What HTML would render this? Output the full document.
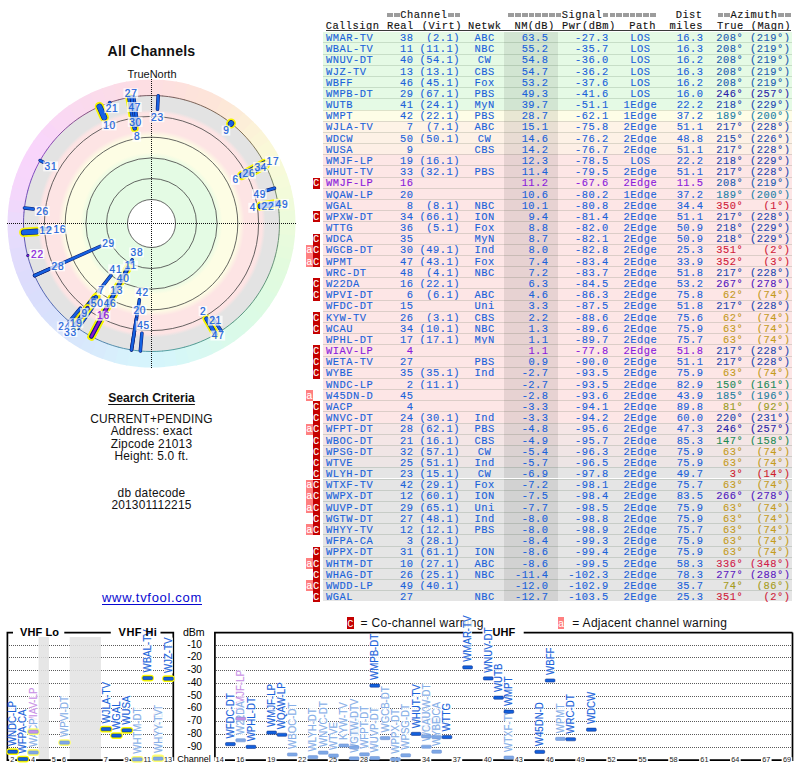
<!DOCTYPE html>
<html><head><meta charset="utf-8"><title>TV Fool</title><style>
*{margin:0;padding:0}
html,body{width:800px;height:768px;overflow:hidden;background:#fff}
body{position:relative;font-family:"Liberation Sans",sans-serif}
.abs{position:absolute}
#tbl span{position:absolute;white-space:pre;-webkit-text-stroke:0.12px currentColor;font-family:"Liberation Mono",monospace;font-size:10.40px;letter-spacing:0.499px;line-height:normal}
#tbl .row{position:absolute;left:323.2px;width:469.3px;height:11.18px;box-shadow:inset 0 1px 0 rgba(0,40,0,0.13)}
#tbl .row.first{box-shadow:inset 0 1px 0 #fff}
#tbl .nmc{position:absolute;left:181.1px;width:53.7px;top:0;bottom:0;box-shadow:inset 0 1px 0 rgba(0,40,0,0.13)}
#tbl .first .nmc{box-shadow:inset 0 1px 0 #fff}
#tbl .eq{position:absolute;width:5.7px;height:3.6px;background:linear-gradient(#9c9c9c 0 38%,#c4c4c4 38% 62%,#9c9c9c 62%)}
#tbl .ul{position:absolute;left:326px;top:30px;width:464.6px;height:1px;background:#3a3a3a}
#tbl .bC{position:absolute;left:313px;width:6.8px;height:11.18px;background:#c40000}
#tbl .ba{position:absolute;left:306.2px;width:6.8px;height:11.18px;background:#ff8080}
.lt{position:absolute;white-space:pre;color:#111}
</style></head>
<body>
<svg class="abs" style="left:0;top:0" width="305" height="380" viewBox="0 0 305 380">
<defs><radialGradient id="bands" cx="151.5" cy="223.5" r="128" gradientUnits="userSpaceOnUse">
<stop offset="0.0000" stop-color="#e4fbe4"/>
<stop offset="0.1875" stop-color="#e4fbe4"/>
<stop offset="0.5000" stop-color="#e4fbe4"/>
<stop offset="0.5547" stop-color="#fdfde4"/>
<stop offset="0.6797" stop-color="#fdfde4"/>
<stop offset="0.7266" stop-color="#fde4e4"/>
<stop offset="0.8633" stop-color="#fde4e4"/>
<stop offset="0.8906" stop-color="#e3e3e3"/>
<stop offset="1.0000" stop-color="#e3e3e3"/>
</radialGradient></defs>
<path d="M150.75 79.50A144.00 144.00 0 0 1 164.80 80.12L163.28 96.55A127.50 127.50 0 0 0 150.83 96.00Z" fill="#fddfe1"/>
<path d="M163.30 79.98A144.00 144.00 0 0 1 177.25 81.82L174.30 98.05A127.50 127.50 0 0 0 161.95 96.43Z" fill="#fde0df"/>
<path d="M175.76 81.56A144.00 144.00 0 0 1 189.50 84.60L185.14 100.52A127.50 127.50 0 0 0 172.98 97.82Z" fill="#fde1dd"/>
<path d="M188.04 84.21A144.00 144.00 0 0 1 201.46 88.44L195.73 103.92A127.50 127.50 0 0 0 183.85 100.17Z" fill="#fde3db"/>
<path d="M200.04 87.93A144.00 144.00 0 0 1 213.04 93.31L205.99 108.23A127.50 127.50 0 0 0 194.48 103.46Z" fill="#fde4da"/>
<path d="M211.67 92.67A144.00 144.00 0 0 1 224.15 99.17L215.83 113.42A127.50 127.50 0 0 0 204.78 107.67Z" fill="#fde5d9"/>
<path d="M222.85 98.42A144.00 144.00 0 0 1 234.71 105.98L225.18 119.44A127.50 127.50 0 0 0 214.67 112.75Z" fill="#fde8d8"/>
<path d="M233.48 105.11A144.00 144.00 0 0 1 244.64 113.68L233.97 126.26A127.50 127.50 0 0 0 224.08 118.68Z" fill="#fcebd8"/>
<path d="M243.48 112.71A144.00 144.00 0 0 1 253.86 122.21L242.13 133.82A127.50 127.50 0 0 0 232.94 125.40Z" fill="#fceed8"/>
<path d="M252.79 121.14A144.00 144.00 0 0 1 262.29 131.52L249.60 142.06A127.50 127.50 0 0 0 241.18 132.87Z" fill="#fcf2d8"/>
<path d="M261.32 130.36A144.00 144.00 0 0 1 269.89 141.52L256.32 150.92A127.50 127.50 0 0 0 248.74 141.03Z" fill="#fbf5d8"/>
<path d="M269.02 140.29A144.00 144.00 0 0 1 276.58 152.15L262.25 160.33A127.50 127.50 0 0 0 255.56 149.82Z" fill="#faf8d8"/>
<path d="M275.83 150.85A144.00 144.00 0 0 1 282.33 163.33L267.33 170.22A127.50 127.50 0 0 0 261.58 159.17Z" fill="#f9fad8"/>
<path d="M281.69 161.96A144.00 144.00 0 0 1 287.07 174.96L271.54 180.52A127.50 127.50 0 0 0 266.77 169.01Z" fill="#f7fad9"/>
<path d="M286.56 173.54A144.00 144.00 0 0 1 290.79 186.96L274.83 191.15A127.50 127.50 0 0 0 271.08 179.27Z" fill="#f5fbda"/>
<path d="M290.40 185.50A144.00 144.00 0 0 1 293.44 199.24L277.18 202.02A127.50 127.50 0 0 0 274.48 189.86Z" fill="#f3fbda"/>
<path d="M293.18 197.75A144.00 144.00 0 0 1 295.02 211.70L278.57 213.05A127.50 127.50 0 0 0 276.95 200.70Z" fill="#f0fbdb"/>
<path d="M294.88 210.20A144.00 144.00 0 0 1 295.50 224.25L279.00 224.17A127.50 127.50 0 0 0 278.45 211.72Z" fill="#edfbdc"/>
<path d="M295.50 222.75A144.00 144.00 0 0 1 294.88 236.80L278.45 235.28A127.50 127.50 0 0 0 279.00 222.83Z" fill="#ebfbdc"/>
<path d="M295.02 235.30A144.00 144.00 0 0 1 293.18 249.25L276.95 246.30A127.50 127.50 0 0 0 278.57 233.95Z" fill="#e8fbdd"/>
<path d="M293.44 247.76A144.00 144.00 0 0 1 290.40 261.50L274.48 257.14A127.50 127.50 0 0 0 277.18 244.98Z" fill="#e6fbdd"/>
<path d="M290.79 260.04A144.00 144.00 0 0 1 286.56 273.46L271.08 267.73A127.50 127.50 0 0 0 274.83 255.85Z" fill="#e3fbde"/>
<path d="M287.07 272.04A144.00 144.00 0 0 1 281.69 285.04L266.77 277.99A127.50 127.50 0 0 0 271.54 266.48Z" fill="#e1fbdf"/>
<path d="M282.33 283.67A144.00 144.00 0 0 1 275.83 296.15L261.58 287.83A127.50 127.50 0 0 0 267.33 276.78Z" fill="#e0fbe0"/>
<path d="M276.58 294.85A144.00 144.00 0 0 1 269.02 306.71L255.56 297.18A127.50 127.50 0 0 0 262.25 286.67Z" fill="#defbe2"/>
<path d="M269.89 305.48A144.00 144.00 0 0 1 261.32 316.64L248.74 305.97A127.50 127.50 0 0 0 256.32 296.08Z" fill="#ddfbe3"/>
<path d="M262.29 315.48A144.00 144.00 0 0 1 252.79 325.86L241.18 314.13A127.50 127.50 0 0 0 249.60 304.94Z" fill="#dcfbe5"/>
<path d="M253.86 324.79A144.00 144.00 0 0 1 243.48 334.29L232.94 321.60A127.50 127.50 0 0 0 242.13 313.18Z" fill="#dbfae7"/>
<path d="M244.64 333.32A144.00 144.00 0 0 1 233.48 341.89L224.08 328.32A127.50 127.50 0 0 0 233.97 320.74Z" fill="#dafae9"/>
<path d="M234.71 341.02A144.00 144.00 0 0 1 222.85 348.58L214.67 334.25A127.50 127.50 0 0 0 225.18 327.56Z" fill="#dafaeb"/>
<path d="M224.15 347.83A144.00 144.00 0 0 1 211.67 354.33L204.78 339.33A127.50 127.50 0 0 0 215.83 333.58Z" fill="#d9f9ee"/>
<path d="M213.04 353.69A144.00 144.00 0 0 1 200.04 359.07L194.48 343.54A127.50 127.50 0 0 0 205.99 338.77Z" fill="#d8f8f1"/>
<path d="M201.46 358.56A144.00 144.00 0 0 1 188.04 362.79L183.85 346.83A127.50 127.50 0 0 0 195.73 343.08Z" fill="#d8f8f4"/>
<path d="M189.50 362.40A144.00 144.00 0 0 1 175.76 365.44L172.98 349.18A127.50 127.50 0 0 0 185.14 346.48Z" fill="#d6f7f6"/>
<path d="M177.25 365.18A144.00 144.00 0 0 1 163.30 367.02L161.95 350.57A127.50 127.50 0 0 0 174.30 348.95Z" fill="#d6f6fa"/>
<path d="M164.80 366.88A144.00 144.00 0 0 1 150.75 367.50L150.83 351.00A127.50 127.50 0 0 0 163.28 350.45Z" fill="#d5f5fb"/>
<path d="M152.25 367.50A144.00 144.00 0 0 1 138.20 366.88L139.72 350.45A127.50 127.50 0 0 0 152.17 351.00Z" fill="#d6f4fc"/>
<path d="M139.70 367.02A144.00 144.00 0 0 1 125.75 365.18L128.70 348.95A127.50 127.50 0 0 0 141.05 350.57Z" fill="#d7f3fc"/>
<path d="M127.24 365.44A144.00 144.00 0 0 1 113.50 362.40L117.86 346.48A127.50 127.50 0 0 0 130.02 349.18Z" fill="#d7f1fc"/>
<path d="M114.96 362.79A144.00 144.00 0 0 1 101.54 358.56L107.27 343.08A127.50 127.50 0 0 0 119.15 346.83Z" fill="#d8eefc"/>
<path d="M102.96 359.07A144.00 144.00 0 0 1 89.96 353.69L97.01 338.77A127.50 127.50 0 0 0 108.52 343.54Z" fill="#d8ebfc"/>
<path d="M91.33 354.33A144.00 144.00 0 0 1 78.85 347.83L87.17 333.58A127.50 127.50 0 0 0 98.22 339.33Z" fill="#d8e9fc"/>
<path d="M80.15 348.58A144.00 144.00 0 0 1 68.29 341.02L77.82 327.56A127.50 127.50 0 0 0 88.33 334.25Z" fill="#d8e7fc"/>
<path d="M69.52 341.89A144.00 144.00 0 0 1 58.36 333.32L69.03 320.74A127.50 127.50 0 0 0 78.92 328.32Z" fill="#d8e5fc"/>
<path d="M59.52 334.29A144.00 144.00 0 0 1 49.14 324.79L60.87 313.18A127.50 127.50 0 0 0 70.06 321.60Z" fill="#d8e3fc"/>
<path d="M50.21 325.86A144.00 144.00 0 0 1 40.71 315.48L53.40 304.94A127.50 127.50 0 0 0 61.82 314.13Z" fill="#d8e1fc"/>
<path d="M41.68 316.64A144.00 144.00 0 0 1 33.11 305.48L46.68 296.08A127.50 127.50 0 0 0 54.26 305.97Z" fill="#dae0fc"/>
<path d="M33.98 306.71A144.00 144.00 0 0 1 26.42 294.85L40.75 286.67A127.50 127.50 0 0 0 47.44 297.18Z" fill="#dadefc"/>
<path d="M27.17 296.15A144.00 144.00 0 0 1 20.67 283.67L35.67 276.78A127.50 127.50 0 0 0 41.42 287.83Z" fill="#dcddfc"/>
<path d="M21.31 285.04A144.00 144.00 0 0 1 15.93 272.04L31.46 266.48A127.50 127.50 0 0 0 36.23 277.99Z" fill="#dddcfc"/>
<path d="M16.44 273.46A144.00 144.00 0 0 1 12.21 260.04L28.17 255.85A127.50 127.50 0 0 0 31.92 267.73Z" fill="#e0dcfc"/>
<path d="M12.60 261.50A144.00 144.00 0 0 1 9.56 247.76L25.82 244.98A127.50 127.50 0 0 0 28.52 257.14Z" fill="#e2dcfc"/>
<path d="M9.82 249.25A144.00 144.00 0 0 1 7.98 235.30L24.43 233.95A127.50 127.50 0 0 0 26.05 246.30Z" fill="#e5dcfc"/>
<path d="M8.12 236.80A144.00 144.00 0 0 1 7.50 222.75L24.00 222.83A127.50 127.50 0 0 0 24.55 235.28Z" fill="#e8dbfc"/>
<path d="M7.50 224.25A144.00 144.00 0 0 1 8.12 210.20L24.55 211.72A127.50 127.50 0 0 0 24.00 224.17Z" fill="#ecdafc"/>
<path d="M7.98 211.70A144.00 144.00 0 0 1 9.82 197.75L26.05 200.70A127.50 127.50 0 0 0 24.43 213.05Z" fill="#f0d8fb"/>
<path d="M9.56 199.24A144.00 144.00 0 0 1 12.60 185.50L28.52 189.86A127.50 127.50 0 0 0 25.82 202.02Z" fill="#f4d7fb"/>
<path d="M12.21 186.96A144.00 144.00 0 0 1 16.44 173.54L31.92 179.27A127.50 127.50 0 0 0 28.17 191.15Z" fill="#f6d6fb"/>
<path d="M15.93 174.96A144.00 144.00 0 0 1 21.31 161.96L36.23 169.01A127.50 127.50 0 0 0 31.46 180.52Z" fill="#f7d6fb"/>
<path d="M20.67 163.33A144.00 144.00 0 0 1 27.17 150.85L41.42 159.17A127.50 127.50 0 0 0 35.67 170.22Z" fill="#f8d5fb"/>
<path d="M26.42 152.15A144.00 144.00 0 0 1 33.98 140.29L47.44 149.82A127.50 127.50 0 0 0 40.75 160.33Z" fill="#f9d5fb"/>
<path d="M33.11 141.52A144.00 144.00 0 0 1 41.68 130.36L54.26 141.03A127.50 127.50 0 0 0 46.68 150.92Z" fill="#f9d6fa"/>
<path d="M40.71 131.52A144.00 144.00 0 0 1 50.21 121.14L61.82 132.87A127.50 127.50 0 0 0 53.40 142.06Z" fill="#f9d6f7"/>
<path d="M49.14 122.21A144.00 144.00 0 0 1 59.52 112.71L70.06 125.40A127.50 127.50 0 0 0 60.87 133.82Z" fill="#fad8f4"/>
<path d="M58.36 113.68A144.00 144.00 0 0 1 69.52 105.11L78.92 118.68A127.50 127.50 0 0 0 69.03 126.26Z" fill="#fad8f2"/>
<path d="M68.29 105.98A144.00 144.00 0 0 1 80.15 98.42L88.33 112.75A127.50 127.50 0 0 0 77.82 119.44Z" fill="#fadaef"/>
<path d="M78.85 99.17A144.00 144.00 0 0 1 91.33 92.67L98.22 107.67A127.50 127.50 0 0 0 87.17 113.42Z" fill="#fadaed"/>
<path d="M89.96 93.31A144.00 144.00 0 0 1 102.96 87.93L108.52 103.46A127.50 127.50 0 0 0 97.01 108.23Z" fill="#fbdbeb"/>
<path d="M101.54 88.44A144.00 144.00 0 0 1 114.96 84.21L119.15 100.17A127.50 127.50 0 0 0 107.27 103.92Z" fill="#fbdce9"/>
<path d="M113.50 84.60A144.00 144.00 0 0 1 127.24 81.56L130.02 97.82A127.50 127.50 0 0 0 117.86 100.52Z" fill="#fcdce7"/>
<path d="M125.75 81.82A144.00 144.00 0 0 1 139.70 79.98L141.05 96.43A127.50 127.50 0 0 0 128.70 98.05Z" fill="#fcdde5"/>
<path d="M138.20 80.12A144.00 144.00 0 0 1 152.25 79.50L152.17 96.00A127.50 127.50 0 0 0 139.72 96.55Z" fill="#fddee3"/>
<circle cx="151.5" cy="223.5" r="128" fill="url(#bands)"/>
<circle cx="151.5" cy="223.5" r="24" fill="#fff"/>
<circle cx="151.5" cy="223.5" r="24.0" fill="none" stroke="#404040" stroke-width="0.8"/>
<circle cx="151.5" cy="223.5" r="45.0" fill="none" stroke="#404040" stroke-width="0.8"/>
<circle cx="151.5" cy="223.5" r="65.6" fill="none" stroke="#404040" stroke-width="0.8"/>
<circle cx="151.5" cy="223.5" r="86.3" fill="none" stroke="#404040" stroke-width="0.8"/>
<circle cx="151.5" cy="223.5" r="107.1" fill="none" stroke="#404040" stroke-width="0.8"/>
<path d="M151.50 95.50A128 128 0 0 1 163.10 96.03" fill="none" stroke="#6a4f51" stroke-width="0.9"/>
<path d="M162.66 95.99A128 128 0 0 1 174.17 97.52" fill="none" stroke="#6c5250" stroke-width="0.9"/>
<path d="M173.73 97.44A128 128 0 0 1 185.06 99.98" fill="none" stroke="#6d544f" stroke-width="0.9"/>
<path d="M184.63 99.86A128 128 0 0 1 195.70 103.37" fill="none" stroke="#6f574d" stroke-width="0.9"/>
<path d="M195.28 103.22A128 128 0 0 1 206.00 107.68" fill="none" stroke="#70594c" stroke-width="0.9"/>
<path d="M205.60 107.49A128 128 0 0 1 215.89 112.87" fill="none" stroke="#725b4b" stroke-width="0.9"/>
<path d="M215.50 112.65A128 128 0 0 1 225.28 118.91" fill="none" stroke="#745e49" stroke-width="0.9"/>
<path d="M224.92 118.65A128 128 0 0 1 234.12 125.73" fill="none" stroke="#766048" stroke-width="0.9"/>
<path d="M233.78 125.45A128 128 0 0 1 242.33 133.31" fill="none" stroke="#776347" stroke-width="0.9"/>
<path d="M242.01 132.99A128 128 0 0 1 249.84 141.57" fill="none" stroke="#776648" stroke-width="0.9"/>
<path d="M249.55 141.22A128 128 0 0 1 256.61 150.45" fill="none" stroke="#756a4c" stroke-width="0.9"/>
<path d="M256.35 150.08A128 128 0 0 1 262.57 159.89" fill="none" stroke="#726e50" stroke-width="0.9"/>
<path d="M262.35 159.50A128 128 0 0 1 267.70 169.81" fill="none" stroke="#707254" stroke-width="0.9"/>
<path d="M267.51 169.40A128 128 0 0 1 271.93 180.14" fill="none" stroke="#6e7658" stroke-width="0.9"/>
<path d="M271.78 179.72A128 128 0 0 1 275.25 190.80" fill="none" stroke="#6c795b" stroke-width="0.9"/>
<path d="M275.14 190.37A128 128 0 0 1 277.63 201.71" fill="none" stroke="#6a7d5f" stroke-width="0.9"/>
<path d="M277.56 201.27A128 128 0 0 1 279.05 212.79" fill="none" stroke="#678163" stroke-width="0.9"/>
<path d="M279.01 212.34A128 128 0 0 1 279.50 223.95" fill="none" stroke="#658567" stroke-width="0.9"/>
<path d="M279.50 223.50A128 128 0 0 1 278.97 235.10" fill="none" stroke="#63876a" stroke-width="0.9"/>
<path d="M279.01 234.66A128 128 0 0 1 277.48 246.17" fill="none" stroke="#60886c" stroke-width="0.9"/>
<path d="M277.56 245.73A128 128 0 0 1 275.02 257.06" fill="none" stroke="#5e896d" stroke-width="0.9"/>
<path d="M275.14 256.63A128 128 0 0 1 271.63 267.70" fill="none" stroke="#5b8a6f" stroke-width="0.9"/>
<path d="M271.78 267.28A128 128 0 0 1 267.32 278.00" fill="none" stroke="#598b70" stroke-width="0.9"/>
<path d="M267.51 277.60A128 128 0 0 1 262.13 287.89" fill="none" stroke="#568c72" stroke-width="0.9"/>
<path d="M262.35 287.50A128 128 0 0 1 256.09 297.28" fill="none" stroke="#548c74" stroke-width="0.9"/>
<path d="M256.35 296.92A128 128 0 0 1 249.27 306.12" fill="none" stroke="#518d76" stroke-width="0.9"/>
<path d="M249.55 305.78A128 128 0 0 1 241.69 314.33" fill="none" stroke="#4f8e77" stroke-width="0.9"/>
<path d="M242.01 314.01A128 128 0 0 1 233.43 321.84" fill="none" stroke="#4c8f79" stroke-width="0.9"/>
<path d="M233.78 321.55A128 128 0 0 1 224.55 328.61" fill="none" stroke="#4a907a" stroke-width="0.9"/>
<path d="M224.92 328.35A128 128 0 0 1 215.11 334.57" fill="none" stroke="#47917c" stroke-width="0.9"/>
<path d="M215.50 334.35A128 128 0 0 1 205.19 339.70" fill="none" stroke="#469180" stroke-width="0.9"/>
<path d="M205.60 339.51A128 128 0 0 1 194.86 343.93" fill="none" stroke="#469286" stroke-width="0.9"/>
<path d="M195.28 343.78A128 128 0 0 1 184.20 347.25" fill="none" stroke="#46938c" stroke-width="0.9"/>
<path d="M184.63 347.14A128 128 0 0 1 173.29 349.63" fill="none" stroke="#469491" stroke-width="0.9"/>
<path d="M173.73 349.56A128 128 0 0 1 162.21 351.05" fill="none" stroke="#469597" stroke-width="0.9"/>
<path d="M162.66 351.01A128 128 0 0 1 151.05 351.50" fill="none" stroke="#46969d" stroke-width="0.9"/>
<path d="M151.50 351.50A128 128 0 0 1 139.90 350.97" fill="none" stroke="#4693a1" stroke-width="0.9"/>
<path d="M140.34 351.01A128 128 0 0 1 128.83 349.48" fill="none" stroke="#468ea2" stroke-width="0.9"/>
<path d="M129.27 349.56A128 128 0 0 1 117.94 347.02" fill="none" stroke="#4688a3" stroke-width="0.9"/>
<path d="M118.37 347.14A128 128 0 0 1 107.30 343.63" fill="none" stroke="#4683a4" stroke-width="0.9"/>
<path d="M107.72 343.78A128 128 0 0 1 97.00 339.32" fill="none" stroke="#467da5" stroke-width="0.9"/>
<path d="M97.40 339.51A128 128 0 0 1 87.11 334.13" fill="none" stroke="#4677a6" stroke-width="0.9"/>
<path d="M87.50 334.35A128 128 0 0 1 77.72 328.09" fill="none" stroke="#4672a7" stroke-width="0.9"/>
<path d="M78.08 328.35A128 128 0 0 1 68.88 321.27" fill="none" stroke="#466ca8" stroke-width="0.9"/>
<path d="M69.22 321.55A128 128 0 0 1 60.67 313.69" fill="none" stroke="#4667a9" stroke-width="0.9"/>
<path d="M60.99 314.01A128 128 0 0 1 53.16 305.43" fill="none" stroke="#4762aa" stroke-width="0.9"/>
<path d="M53.45 305.78A128 128 0 0 1 46.39 296.55" fill="none" stroke="#485faa" stroke-width="0.9"/>
<path d="M46.65 296.92A128 128 0 0 1 40.43 287.11" fill="none" stroke="#4a5caa" stroke-width="0.9"/>
<path d="M40.65 287.50A128 128 0 0 1 35.30 277.19" fill="none" stroke="#4c58aa" stroke-width="0.9"/>
<path d="M35.49 277.60A128 128 0 0 1 31.07 266.86" fill="none" stroke="#4e55aa" stroke-width="0.9"/>
<path d="M31.22 267.28A128 128 0 0 1 27.75 256.20" fill="none" stroke="#4f52aa" stroke-width="0.9"/>
<path d="M27.86 256.63A128 128 0 0 1 25.37 245.29" fill="none" stroke="#514eaa" stroke-width="0.9"/>
<path d="M25.44 245.73A128 128 0 0 1 23.95 234.21" fill="none" stroke="#524baa" stroke-width="0.9"/>
<path d="M23.99 234.66A128 128 0 0 1 23.50 223.05" fill="none" stroke="#5448aa" stroke-width="0.9"/>
<path d="M23.50 223.50A128 128 0 0 1 24.03 211.90" fill="none" stroke="#5945ac" stroke-width="0.9"/>
<path d="M23.99 212.34A128 128 0 0 1 25.52 200.83" fill="none" stroke="#6044af" stroke-width="0.9"/>
<path d="M25.44 201.27A128 128 0 0 1 27.98 189.94" fill="none" stroke="#6742b2" stroke-width="0.9"/>
<path d="M27.86 190.37A128 128 0 0 1 31.37 179.30" fill="none" stroke="#6e40b6" stroke-width="0.9"/>
<path d="M31.22 179.72A128 128 0 0 1 35.68 169.00" fill="none" stroke="#753eb9" stroke-width="0.9"/>
<path d="M35.49 169.40A128 128 0 0 1 40.87 159.11" fill="none" stroke="#7c3dbc" stroke-width="0.9"/>
<path d="M40.65 159.50A128 128 0 0 1 46.91 149.72" fill="none" stroke="#803db8" stroke-width="0.9"/>
<path d="M46.65 150.08A128 128 0 0 1 53.73 140.88" fill="none" stroke="#7f3eac" stroke-width="0.9"/>
<path d="M53.45 141.22A128 128 0 0 1 61.31 132.67" fill="none" stroke="#7f40a1" stroke-width="0.9"/>
<path d="M60.99 132.99A128 128 0 0 1 69.57 125.16" fill="none" stroke="#7e4295" stroke-width="0.9"/>
<path d="M69.22 125.45A128 128 0 0 1 78.45 118.39" fill="none" stroke="#7e448a" stroke-width="0.9"/>
<path d="M78.08 118.65A128 128 0 0 1 87.89 112.43" fill="none" stroke="#7d457e" stroke-width="0.9"/>
<path d="M87.50 112.65A128 128 0 0 1 97.81 107.30" fill="none" stroke="#7b4775" stroke-width="0.9"/>
<path d="M97.40 107.49A128 128 0 0 1 108.14 103.07" fill="none" stroke="#78486e" stroke-width="0.9"/>
<path d="M107.72 103.22A128 128 0 0 1 118.80 99.75" fill="none" stroke="#754968" stroke-width="0.9"/>
<path d="M118.37 99.86A128 128 0 0 1 129.71 97.37" fill="none" stroke="#714b62" stroke-width="0.9"/>
<path d="M129.27 97.44A128 128 0 0 1 140.79 95.95" fill="none" stroke="#6e4c5c" stroke-width="0.9"/>
<path d="M140.34 95.99A128 128 0 0 1 151.95 95.50" fill="none" stroke="#6b4d55" stroke-width="0.9"/>
<line x1="7" y1="223.5" x2="297" y2="223.5" stroke="#111" stroke-width="1" stroke-dasharray="1 1"/>
<line x1="151.5" y1="79" x2="151.5" y2="368" stroke="#111" stroke-width="1" stroke-dasharray="1 1"/>
<line x1="132.20" y1="259.80" x2="91.41" y2="336.52" stroke="#0c1c70" stroke-width="3.5" stroke-linecap="round"/>
<line x1="132.20" y1="259.80" x2="91.41" y2="336.52" stroke="#1662e2" stroke-width="2.4" stroke-linecap="round"/>
<line x1="128.15" y1="267.42" x2="91.41" y2="336.52" stroke="#f5f500" stroke-width="8.0" stroke-linecap="round"/>
<line x1="128.15" y1="267.42" x2="91.41" y2="336.52" stroke="#0c1c70" stroke-width="4.5" stroke-linecap="round"/>
<line x1="128.15" y1="267.42" x2="91.41" y2="336.52" stroke="#1662e2" stroke-width="3.4" stroke-linecap="round"/>
<line x1="127.95" y1="267.79" x2="91.41" y2="336.52" stroke="#0c1c70" stroke-width="3.5" stroke-linecap="round"/>
<line x1="127.95" y1="267.79" x2="91.41" y2="336.52" stroke="#1662e2" stroke-width="2.4" stroke-linecap="round"/>
<line x1="127.90" y1="267.88" x2="91.41" y2="336.52" stroke="#f5f500" stroke-width="8.0" stroke-linecap="round"/>
<line x1="127.90" y1="267.88" x2="91.41" y2="336.52" stroke="#0c1c70" stroke-width="4.5" stroke-linecap="round"/>
<line x1="127.90" y1="267.88" x2="91.41" y2="336.52" stroke="#1662e2" stroke-width="3.4" stroke-linecap="round"/>
<line x1="127.17" y1="269.26" x2="91.41" y2="336.52" stroke="#0c1c70" stroke-width="3.5" stroke-linecap="round"/>
<line x1="127.17" y1="269.26" x2="91.41" y2="336.52" stroke="#1662e2" stroke-width="2.4" stroke-linecap="round"/>
<line x1="100.45" y1="246.23" x2="34.57" y2="275.56" stroke="#0c1c70" stroke-width="3.5" stroke-linecap="round"/>
<line x1="100.45" y1="246.23" x2="34.57" y2="275.56" stroke="#1662e2" stroke-width="2.4" stroke-linecap="round"/>
<line x1="110.95" y1="275.40" x2="72.70" y2="324.37" stroke="#0c1c70" stroke-width="3.5" stroke-linecap="round"/>
<line x1="110.95" y1="275.40" x2="72.70" y2="324.37" stroke="#1662e2" stroke-width="2.4" stroke-linecap="round"/>
<line x1="139.41" y1="299.85" x2="131.48" y2="349.92" stroke="#0c1c70" stroke-width="3.5" stroke-linecap="round"/>
<line x1="139.41" y1="299.85" x2="131.48" y2="349.92" stroke="#1662e2" stroke-width="2.4" stroke-linecap="round"/>
<line x1="96.47" y1="296.53" x2="74.47" y2="325.73" stroke="#f5f500" stroke-width="8.0" stroke-linecap="round"/>
<line x1="96.47" y1="296.53" x2="74.47" y2="325.73" stroke="#0c1c70" stroke-width="4.5" stroke-linecap="round"/>
<line x1="96.47" y1="296.53" x2="74.47" y2="325.73" stroke="#1662e2" stroke-width="3.4" stroke-linecap="round"/>
<line x1="98.75" y1="298.83" x2="78.08" y2="328.35" stroke="#0c1c70" stroke-width="3.5" stroke-linecap="round"/>
<line x1="98.75" y1="298.83" x2="78.08" y2="328.35" stroke="#1662e2" stroke-width="2.4" stroke-linecap="round"/>
<line x1="95.90" y1="297.28" x2="74.47" y2="325.73" stroke="#f5f500" stroke-width="8.0" stroke-linecap="round"/>
<line x1="95.90" y1="297.28" x2="74.47" y2="325.73" stroke="#0c1c70" stroke-width="4.5" stroke-linecap="round"/>
<line x1="95.90" y1="297.28" x2="74.47" y2="325.73" stroke="#1662e2" stroke-width="3.4" stroke-linecap="round"/>
<line x1="93.41" y1="297.86" x2="72.70" y2="324.37" stroke="#0c1c70" stroke-width="3.5" stroke-linecap="round"/>
<line x1="93.41" y1="297.86" x2="72.70" y2="324.37" stroke="#1662e2" stroke-width="2.4" stroke-linecap="round"/>
<line x1="94.15" y1="299.61" x2="74.47" y2="325.73" stroke="#0c1c70" stroke-width="3.5" stroke-linecap="round"/>
<line x1="94.15" y1="299.61" x2="74.47" y2="325.73" stroke="#1662e2" stroke-width="2.4" stroke-linecap="round"/>
<line x1="106.66" y1="307.82" x2="91.41" y2="336.52" stroke="#0c1c70" stroke-width="3.5" stroke-linecap="round"/>
<line x1="106.66" y1="307.82" x2="91.41" y2="336.52" stroke="#8a10d8" stroke-width="2.4" stroke-linecap="round"/>
<line x1="136.46" y1="318.44" x2="131.48" y2="349.92" stroke="#0c1c70" stroke-width="3.5" stroke-linecap="round"/>
<line x1="136.46" y1="318.44" x2="131.48" y2="349.92" stroke="#1662e2" stroke-width="2.4" stroke-linecap="round"/>
<line x1="134.72" y1="128.32" x2="129.27" y2="97.44" stroke="#f5f500" stroke-width="8.0" stroke-linecap="round"/>
<line x1="134.72" y1="128.32" x2="129.27" y2="97.44" stroke="#0c1c70" stroke-width="4.5" stroke-linecap="round"/>
<line x1="134.72" y1="128.32" x2="129.27" y2="97.44" stroke="#1662e2" stroke-width="3.4" stroke-linecap="round"/>
<line x1="92.90" y1="301.27" x2="74.47" y2="325.73" stroke="#0c1c70" stroke-width="3.5" stroke-linecap="round"/>
<line x1="92.90" y1="301.27" x2="74.47" y2="325.73" stroke="#1662e2" stroke-width="2.4" stroke-linecap="round"/>
<line x1="91.17" y1="300.72" x2="72.70" y2="324.37" stroke="#0c1c70" stroke-width="3.5" stroke-linecap="round"/>
<line x1="91.17" y1="300.72" x2="72.70" y2="324.37" stroke="#1662e2" stroke-width="2.4" stroke-linecap="round"/>
<line x1="91.10" y1="300.81" x2="72.70" y2="324.37" stroke="#0c1c70" stroke-width="3.5" stroke-linecap="round"/>
<line x1="91.10" y1="300.81" x2="72.70" y2="324.37" stroke="#1662e2" stroke-width="2.4" stroke-linecap="round"/>
<line x1="136.04" y1="125.89" x2="131.48" y2="97.08" stroke="#0c1c70" stroke-width="3.5" stroke-linecap="round"/>
<line x1="136.04" y1="125.89" x2="131.48" y2="97.08" stroke="#1662e2" stroke-width="2.4" stroke-linecap="round"/>
<line x1="137.66" y1="125.01" x2="133.69" y2="96.75" stroke="#0c1c70" stroke-width="3.5" stroke-linecap="round"/>
<line x1="137.66" y1="125.01" x2="133.69" y2="96.75" stroke="#1662e2" stroke-width="2.4" stroke-linecap="round"/>
<line x1="91.52" y1="303.09" x2="74.47" y2="325.73" stroke="#0c1c70" stroke-width="3.5" stroke-linecap="round"/>
<line x1="91.52" y1="303.09" x2="74.47" y2="325.73" stroke="#1662e2" stroke-width="2.4" stroke-linecap="round"/>
<line x1="51.04" y1="228.76" x2="23.68" y2="230.20" stroke="#0c1c70" stroke-width="3.5" stroke-linecap="round"/>
<line x1="51.04" y1="228.76" x2="23.68" y2="230.20" stroke="#1662e2" stroke-width="2.4" stroke-linecap="round"/>
<line x1="241.88" y1="175.44" x2="264.52" y2="163.41" stroke="#f5f500" stroke-width="9.4" stroke-linecap="round"/>
<line x1="241.88" y1="175.44" x2="264.52" y2="163.41" stroke="#0c1c70" stroke-width="5.9" stroke-linecap="round"/>
<line x1="241.88" y1="175.44" x2="264.52" y2="163.41" stroke="#1662e2" stroke-width="4.8" stroke-linecap="round"/>
<line x1="89.08" y1="306.33" x2="74.47" y2="325.73" stroke="#0c1c70" stroke-width="3.5" stroke-linecap="round"/>
<line x1="89.08" y1="306.33" x2="74.47" y2="325.73" stroke="#1662e2" stroke-width="2.4" stroke-linecap="round"/>
<line x1="244.09" y1="174.27" x2="264.52" y2="163.41" stroke="#0c1c70" stroke-width="3.5" stroke-linecap="round"/>
<line x1="244.09" y1="174.27" x2="264.52" y2="163.41" stroke="#1662e2" stroke-width="2.4" stroke-linecap="round"/>
<line x1="245.77" y1="175.47" x2="265.55" y2="165.39" stroke="#0c1c70" stroke-width="3.5" stroke-linecap="round"/>
<line x1="245.77" y1="175.47" x2="265.55" y2="165.39" stroke="#1662e2" stroke-width="2.4" stroke-linecap="round"/>
<line x1="245.95" y1="175.37" x2="265.55" y2="165.39" stroke="#0c1c70" stroke-width="3.5" stroke-linecap="round"/>
<line x1="245.95" y1="175.37" x2="265.55" y2="165.39" stroke="#1662e2" stroke-width="2.4" stroke-linecap="round"/>
<line x1="87.70" y1="308.16" x2="74.47" y2="325.73" stroke="#f5f500" stroke-width="8.0" stroke-linecap="round"/>
<line x1="87.70" y1="308.16" x2="74.47" y2="325.73" stroke="#0c1c70" stroke-width="4.5" stroke-linecap="round"/>
<line x1="87.70" y1="308.16" x2="74.47" y2="325.73" stroke="#8a10d8" stroke-width="3.4" stroke-linecap="round"/>
<line x1="87.58" y1="308.33" x2="74.47" y2="325.73" stroke="#0c1c70" stroke-width="3.5" stroke-linecap="round"/>
<line x1="87.58" y1="308.33" x2="74.47" y2="325.73" stroke="#1662e2" stroke-width="2.4" stroke-linecap="round"/>
<line x1="249.47" y1="173.58" x2="265.55" y2="165.39" stroke="#0c1c70" stroke-width="3.5" stroke-linecap="round"/>
<line x1="249.47" y1="173.58" x2="265.55" y2="165.39" stroke="#1662e2" stroke-width="2.4" stroke-linecap="round"/>
<line x1="206.48" y1="318.73" x2="215.50" y2="334.35" stroke="#f5f500" stroke-width="8.0" stroke-linecap="round"/>
<line x1="206.48" y1="318.73" x2="215.50" y2="334.35" stroke="#0c1c70" stroke-width="4.5" stroke-linecap="round"/>
<line x1="206.48" y1="318.73" x2="215.50" y2="334.35" stroke="#1662e2" stroke-width="3.4" stroke-linecap="round"/>
<line x1="141.91" y1="333.14" x2="140.34" y2="351.01" stroke="#0c1c70" stroke-width="3.5" stroke-linecap="round"/>
<line x1="141.91" y1="333.14" x2="140.34" y2="351.01" stroke="#1662e2" stroke-width="2.4" stroke-linecap="round"/>
<line x1="260.72" y1="206.20" x2="277.92" y2="203.48" stroke="#f5f500" stroke-width="9.4" stroke-linecap="round"/>
<line x1="260.72" y1="206.20" x2="277.92" y2="203.48" stroke="#0c1c70" stroke-width="5.9" stroke-linecap="round"/>
<line x1="260.72" y1="206.20" x2="277.92" y2="203.48" stroke="#1662e2" stroke-width="4.8" stroke-linecap="round"/>
<line x1="80.42" y1="308.21" x2="69.22" y2="321.55" stroke="#0c1c70" stroke-width="3.5" stroke-linecap="round"/>
<line x1="80.42" y1="308.21" x2="69.22" y2="321.55" stroke="#1662e2" stroke-width="2.4" stroke-linecap="round"/>
<line x1="49.05" y1="269.11" x2="34.57" y2="275.56" stroke="#0c1c70" stroke-width="3.5" stroke-linecap="round"/>
<line x1="49.05" y1="269.11" x2="34.57" y2="275.56" stroke="#1662e2" stroke-width="2.4" stroke-linecap="round"/>
<line x1="212.63" y1="317.64" x2="221.21" y2="330.85" stroke="#0c1c70" stroke-width="3.5" stroke-linecap="round"/>
<line x1="212.63" y1="317.64" x2="221.21" y2="330.85" stroke="#1662e2" stroke-width="2.4" stroke-linecap="round"/>
<line x1="251.98" y1="172.31" x2="265.55" y2="165.39" stroke="#0c1c70" stroke-width="3.5" stroke-linecap="round"/>
<line x1="251.98" y1="172.31" x2="265.55" y2="165.39" stroke="#1662e2" stroke-width="2.4" stroke-linecap="round"/>
<line x1="252.25" y1="172.16" x2="265.55" y2="165.39" stroke="#0c1c70" stroke-width="3.5" stroke-linecap="round"/>
<line x1="252.25" y1="172.16" x2="265.55" y2="165.39" stroke="#1662e2" stroke-width="2.4" stroke-linecap="round"/>
<line x1="157.48" y1="109.33" x2="158.20" y2="95.68" stroke="#0c1c70" stroke-width="3.5" stroke-linecap="round"/>
<line x1="157.48" y1="109.33" x2="158.20" y2="95.68" stroke="#1662e2" stroke-width="2.4" stroke-linecap="round"/>
<line x1="253.64" y1="171.46" x2="265.55" y2="165.39" stroke="#0c1c70" stroke-width="3.5" stroke-linecap="round"/>
<line x1="253.64" y1="171.46" x2="265.55" y2="165.39" stroke="#1662e2" stroke-width="2.4" stroke-linecap="round"/>
<line x1="36.83" y1="231.52" x2="23.81" y2="232.43" stroke="#f5f500" stroke-width="9.4" stroke-linecap="round"/>
<line x1="36.83" y1="231.52" x2="23.81" y2="232.43" stroke="#0c1c70" stroke-width="5.9" stroke-linecap="round"/>
<line x1="36.83" y1="231.52" x2="23.81" y2="232.43" stroke="#1662e2" stroke-width="4.8" stroke-linecap="round"/>
<line x1="254.11" y1="171.22" x2="265.55" y2="165.39" stroke="#0c1c70" stroke-width="3.5" stroke-linecap="round"/>
<line x1="254.11" y1="171.22" x2="265.55" y2="165.39" stroke="#1662e2" stroke-width="2.4" stroke-linecap="round"/>
<line x1="254.38" y1="171.08" x2="265.55" y2="165.39" stroke="#0c1c70" stroke-width="3.5" stroke-linecap="round"/>
<line x1="254.38" y1="171.08" x2="265.55" y2="165.39" stroke="#1662e2" stroke-width="2.4" stroke-linecap="round"/>
<line x1="254.38" y1="171.08" x2="265.55" y2="165.39" stroke="#f5f500" stroke-width="8.0" stroke-linecap="round"/>
<line x1="254.38" y1="171.08" x2="265.55" y2="165.39" stroke="#0c1c70" stroke-width="4.5" stroke-linecap="round"/>
<line x1="254.38" y1="171.08" x2="265.55" y2="165.39" stroke="#1662e2" stroke-width="3.4" stroke-linecap="round"/>
<line x1="254.76" y1="170.89" x2="265.55" y2="165.39" stroke="#f5f500" stroke-width="8.0" stroke-linecap="round"/>
<line x1="254.76" y1="170.89" x2="265.55" y2="165.39" stroke="#0c1c70" stroke-width="4.5" stroke-linecap="round"/>
<line x1="254.76" y1="170.89" x2="265.55" y2="165.39" stroke="#1662e2" stroke-width="3.4" stroke-linecap="round"/>
<line x1="254.94" y1="170.79" x2="265.55" y2="165.39" stroke="#0c1c70" stroke-width="3.5" stroke-linecap="round"/>
<line x1="254.94" y1="170.79" x2="265.55" y2="165.39" stroke="#1662e2" stroke-width="2.4" stroke-linecap="round"/>
<line x1="104.28" y1="117.44" x2="99.44" y2="106.57" stroke="#f5f500" stroke-width="9.4" stroke-linecap="round"/>
<line x1="104.28" y1="117.44" x2="99.44" y2="106.57" stroke="#0c1c70" stroke-width="5.9" stroke-linecap="round"/>
<line x1="104.28" y1="117.44" x2="99.44" y2="106.57" stroke="#1662e2" stroke-width="4.8" stroke-linecap="round"/>
<line x1="33.38" y1="209.00" x2="24.45" y2="207.90" stroke="#0c1c70" stroke-width="3.5" stroke-linecap="round"/>
<line x1="33.38" y1="209.00" x2="24.45" y2="207.90" stroke="#1662e2" stroke-width="2.4" stroke-linecap="round"/>
<line x1="266.50" y1="190.53" x2="274.54" y2="188.22" stroke="#0c1c70" stroke-width="3.5" stroke-linecap="round"/>
<line x1="266.50" y1="190.53" x2="274.54" y2="188.22" stroke="#1662e2" stroke-width="2.4" stroke-linecap="round"/>
<line x1="132.67" y1="104.62" x2="131.48" y2="97.08" stroke="#0c1c70" stroke-width="3.5" stroke-linecap="round"/>
<line x1="132.67" y1="104.62" x2="131.48" y2="97.08" stroke="#1662e2" stroke-width="2.4" stroke-linecap="round"/>
<line x1="43.31" y1="162.29" x2="40.09" y2="160.47" stroke="#0c1c70" stroke-width="3.5" stroke-linecap="round"/>
<line x1="43.31" y1="162.29" x2="40.09" y2="160.47" stroke="#1662e2" stroke-width="2.4" stroke-linecap="round"/>
<line x1="230.83" y1="123.77" x2="231.18" y2="123.33" stroke="#f5f500" stroke-width="9.6" stroke-linecap="round"/>
<line x1="230.83" y1="123.77" x2="231.18" y2="123.33" stroke="#0c1c70" stroke-width="6.1" stroke-linecap="round"/>
<line x1="230.83" y1="123.77" x2="231.18" y2="123.33" stroke="#1662e2" stroke-width="5.0" stroke-linecap="round"/>
<line x1="28.13" y1="255.41" x2="27.58" y2="255.55" stroke="#0c1c70" stroke-width="2.7" stroke-linecap="round"/>
<line x1="28.13" y1="255.41" x2="27.58" y2="255.55" stroke="#8a10d8" stroke-width="1.6" stroke-linecap="round"/>
<line x1="109.83" y1="102.47" x2="109.83" y2="102.47" stroke="#0c1c70" stroke-width="3.5" stroke-linecap="round"/>
<line x1="109.83" y1="102.47" x2="109.83" y2="102.47" stroke="#1662e2" stroke-width="2.4" stroke-linecap="round"/>
<rect x="56.90" y="321.50" width="14.80" height="10" fill="#fff" fill-opacity="0.72"/>
<text x="64.70" y="330.10" fill="#1a62da" stroke="#1a62da" stroke-width="0.2" text-anchor="middle" font-size="10.1" letter-spacing="0.8" font-family="Liberation Sans">24</text>
<rect x="129.10" y="247.40" width="14.80" height="10" fill="#fff" fill-opacity="0.72"/>
<text x="136.90" y="256.00" fill="#1a62da" stroke="#1a62da" stroke-width="0.2" text-anchor="middle" font-size="10.1" letter-spacing="0.8" font-family="Liberation Sans">38</text>
<rect x="123.10" y="260.60" width="14.80" height="10" fill="#fff" fill-opacity="0.72"/>
<text x="130.90" y="269.20" fill="#1a62da" stroke="#1a62da" stroke-width="0.2" text-anchor="middle" font-size="10.1" letter-spacing="0.8" font-family="Liberation Sans">11</text>
<rect x="115.40" y="273.20" width="14.80" height="10" fill="#fff" fill-opacity="0.72"/>
<text x="123.20" y="281.80" fill="#1a62da" stroke="#1a62da" stroke-width="0.2" text-anchor="middle" font-size="10.1" letter-spacing="0.8" font-family="Liberation Sans">40</text>
<rect x="108.90" y="285.10" width="14.80" height="10" fill="#fff" fill-opacity="0.72"/>
<text x="116.70" y="293.70" fill="#1a62da" stroke="#1a62da" stroke-width="0.2" text-anchor="middle" font-size="10.1" letter-spacing="0.8" font-family="Liberation Sans">13</text>
<rect x="102.10" y="298.20" width="14.80" height="10" fill="#fff" fill-opacity="0.72"/>
<text x="109.90" y="306.80" fill="#1a62da" stroke="#1a62da" stroke-width="0.2" text-anchor="middle" font-size="10.1" letter-spacing="0.8" font-family="Liberation Sans">46</text>
<rect x="100.80" y="238.60" width="14.80" height="10" fill="#fff" fill-opacity="0.72"/>
<text x="108.60" y="247.20" fill="#1a62da" stroke="#1a62da" stroke-width="0.2" text-anchor="middle" font-size="10.1" letter-spacing="0.8" font-family="Liberation Sans">29</text>
<rect x="108.20" y="264.30" width="14.80" height="10" fill="#fff" fill-opacity="0.72"/>
<text x="116.00" y="272.90" fill="#1a62da" stroke="#1a62da" stroke-width="0.2" text-anchor="middle" font-size="10.1" letter-spacing="0.8" font-family="Liberation Sans">41</text>
<rect x="134.60" y="287.30" width="14.80" height="10" fill="#fff" fill-opacity="0.72"/>
<text x="142.40" y="295.90" fill="#1a62da" stroke="#1a62da" stroke-width="0.2" text-anchor="middle" font-size="10.1" letter-spacing="0.8" font-family="Liberation Sans">42</text>
<rect x="96.70" y="285.20" width="8.60" height="10" fill="#fff" fill-opacity="0.72"/>
<text x="101.40" y="293.80" fill="#1a62da" stroke="#1a62da" stroke-width="0.2" text-anchor="middle" font-size="10.1" letter-spacing="0.8" font-family="Liberation Sans">7</text>
<rect x="89.40" y="298.50" width="14.80" height="10" fill="#fff" fill-opacity="0.72"/>
<text x="97.20" y="307.10" fill="#1a62da" stroke="#1a62da" stroke-width="0.2" text-anchor="middle" font-size="10.1" letter-spacing="0.8" font-family="Liberation Sans">50</text>
<rect x="80.10" y="307.90" width="8.60" height="10" fill="#fff" fill-opacity="0.72"/>
<text x="84.80" y="316.50" fill="#1a62da" stroke="#1a62da" stroke-width="0.2" text-anchor="middle" font-size="10.1" letter-spacing="0.8" font-family="Liberation Sans">9</text>
<rect x="68.50" y="318.30" width="14.80" height="10" fill="#fff" fill-opacity="0.72"/>
<text x="76.30" y="326.90" fill="#1a62da" stroke="#1a62da" stroke-width="0.2" text-anchor="middle" font-size="10.1" letter-spacing="0.8" font-family="Liberation Sans">19</text>
<rect x="62.70" y="326.90" width="14.80" height="10" fill="#fff" fill-opacity="0.72"/>
<text x="70.50" y="335.50" fill="#1a62da" stroke="#1a62da" stroke-width="0.2" text-anchor="middle" font-size="10.1" letter-spacing="0.8" font-family="Liberation Sans">33</text>
<rect x="95.60" y="310.80" width="14.80" height="10" fill="#fff" fill-opacity="0.72"/>
<text x="103.40" y="319.40" fill="#8a1adc" stroke="#8a1adc" stroke-width="0.2" text-anchor="middle" font-size="10.1" letter-spacing="0.8" font-family="Liberation Sans">16</text>
<rect x="132.00" y="305.20" width="14.80" height="10" fill="#fff" fill-opacity="0.72"/>
<text x="139.80" y="313.80" fill="#1a62da" stroke="#1a62da" stroke-width="0.2" text-anchor="middle" font-size="10.1" letter-spacing="0.8" font-family="Liberation Sans">20</text>
<rect x="132.50" y="131.70" width="8.60" height="10" fill="#fff" fill-opacity="0.72"/>
<text x="137.20" y="140.30" fill="#1a62da" stroke="#1a62da" stroke-width="0.2" text-anchor="middle" font-size="10.1" letter-spacing="0.8" font-family="Liberation Sans">8</text>
<rect x="127.80" y="116.90" width="14.80" height="10" fill="#fff" fill-opacity="0.72"/>
<text x="135.60" y="125.50" fill="#1a62da" stroke="#1a62da" stroke-width="0.2" text-anchor="middle" font-size="10.1" letter-spacing="0.8" font-family="Liberation Sans">30</text>
<rect x="127.00" y="102.00" width="14.80" height="10" fill="#fff" fill-opacity="0.72"/>
<text x="134.80" y="110.60" fill="#1a62da" stroke="#1a62da" stroke-width="0.2" text-anchor="middle" font-size="10.1" letter-spacing="0.8" font-family="Liberation Sans">47</text>
<rect x="52.00" y="224.20" width="14.80" height="10" fill="#fff" fill-opacity="0.72"/>
<text x="59.80" y="232.80" fill="#1a62da" stroke="#1a62da" stroke-width="0.2" text-anchor="middle" font-size="10.1" letter-spacing="0.8" font-family="Liberation Sans">16</text>
<rect x="231.00" y="174.80" width="8.60" height="10" fill="#fff" fill-opacity="0.72"/>
<text x="235.70" y="183.40" fill="#1a62da" stroke="#1a62da" stroke-width="0.2" text-anchor="middle" font-size="10.1" letter-spacing="0.8" font-family="Liberation Sans">6</text>
<rect x="241.20" y="168.60" width="14.80" height="10" fill="#fff" fill-opacity="0.72"/>
<text x="249.00" y="177.20" fill="#1a62da" stroke="#1a62da" stroke-width="0.2" text-anchor="middle" font-size="10.1" letter-spacing="0.8" font-family="Liberation Sans">26</text>
<rect x="253.00" y="162.10" width="14.80" height="10" fill="#fff" fill-opacity="0.72"/>
<text x="260.80" y="170.70" fill="#1a62da" stroke="#1a62da" stroke-width="0.2" text-anchor="middle" font-size="10.1" letter-spacing="0.8" font-family="Liberation Sans">34</text>
<rect x="265.10" y="156.30" width="14.80" height="10" fill="#fff" fill-opacity="0.72"/>
<text x="272.90" y="164.90" fill="#1a62da" stroke="#1a62da" stroke-width="0.2" text-anchor="middle" font-size="10.1" letter-spacing="0.8" font-family="Liberation Sans">17</text>
<rect x="198.60" y="306.10" width="8.60" height="10" fill="#fff" fill-opacity="0.72"/>
<text x="203.30" y="314.70" fill="#1a62da" stroke="#1a62da" stroke-width="0.2" text-anchor="middle" font-size="10.1" letter-spacing="0.8" font-family="Liberation Sans">2</text>
<rect x="135.80" y="320.70" width="14.80" height="10" fill="#fff" fill-opacity="0.72"/>
<text x="143.60" y="329.30" fill="#1a62da" stroke="#1a62da" stroke-width="0.2" text-anchor="middle" font-size="10.1" letter-spacing="0.8" font-family="Liberation Sans">45</text>
<rect x="248.30" y="202.80" width="8.60" height="10" fill="#fff" fill-opacity="0.72"/>
<text x="253.00" y="211.40" fill="#1a62da" stroke="#1a62da" stroke-width="0.2" text-anchor="middle" font-size="10.1" letter-spacing="0.8" font-family="Liberation Sans">4</text>
<rect x="50.20" y="261.30" width="14.80" height="10" fill="#fff" fill-opacity="0.72"/>
<text x="58.00" y="269.90" fill="#1a62da" stroke="#1a62da" stroke-width="0.2" text-anchor="middle" font-size="10.1" letter-spacing="0.8" font-family="Liberation Sans">28</text>
<rect x="207.80" y="315.70" width="14.80" height="10" fill="#fff" fill-opacity="0.72"/>
<text x="215.60" y="324.30" fill="#1a62da" stroke="#1a62da" stroke-width="0.2" text-anchor="middle" font-size="10.1" letter-spacing="0.8" font-family="Liberation Sans">21</text>
<rect x="149.60" y="112.20" width="14.80" height="10" fill="#fff" fill-opacity="0.72"/>
<text x="157.40" y="120.80" fill="#1a62da" stroke="#1a62da" stroke-width="0.2" text-anchor="middle" font-size="10.1" letter-spacing="0.8" font-family="Liberation Sans">23</text>
<rect x="38.10" y="225.00" width="14.80" height="10" fill="#fff" fill-opacity="0.72"/>
<text x="45.90" y="233.60" fill="#1a62da" stroke="#1a62da" stroke-width="0.2" text-anchor="middle" font-size="10.1" letter-spacing="0.8" font-family="Liberation Sans">12</text>
<rect x="101.80" y="120.40" width="14.80" height="10" fill="#fff" fill-opacity="0.72"/>
<text x="109.60" y="129.00" fill="#1a62da" stroke="#1a62da" stroke-width="0.2" text-anchor="middle" font-size="10.1" letter-spacing="0.8" font-family="Liberation Sans">10</text>
<rect x="34.80" y="206.10" width="14.80" height="10" fill="#fff" fill-opacity="0.72"/>
<text x="42.60" y="214.70" fill="#1a62da" stroke="#1a62da" stroke-width="0.2" text-anchor="middle" font-size="10.1" letter-spacing="0.8" font-family="Liberation Sans">26</text>
<rect x="252.00" y="189.10" width="14.80" height="10" fill="#fff" fill-opacity="0.72"/>
<text x="259.80" y="197.70" fill="#1a62da" stroke="#1a62da" stroke-width="0.2" text-anchor="middle" font-size="10.1" letter-spacing="0.8" font-family="Liberation Sans">49</text>
<rect x="123.40" y="88.30" width="14.80" height="10" fill="#fff" fill-opacity="0.72"/>
<text x="131.20" y="96.90" fill="#1a62da" stroke="#1a62da" stroke-width="0.2" text-anchor="middle" font-size="10.1" letter-spacing="0.8" font-family="Liberation Sans">27</text>
<rect x="221.70" y="125.60" width="8.60" height="10" fill="#fff" fill-opacity="0.72"/>
<text x="226.40" y="134.20" fill="#1a62da" stroke="#1a62da" stroke-width="0.2" text-anchor="middle" font-size="10.1" letter-spacing="0.8" font-family="Liberation Sans">9</text>
<rect x="104.30" y="103.10" width="14.80" height="10" fill="#fff" fill-opacity="0.72"/>
<text x="112.10" y="111.70" fill="#1a62da" stroke="#1a62da" stroke-width="0.2" text-anchor="middle" font-size="10.1" letter-spacing="0.8" font-family="Liberation Sans">21</text>
<rect x="43.20" y="161.40" width="14.80" height="10" fill="#fff" fill-opacity="0.72"/>
<text x="51.00" y="170.00" fill="#1a62da" stroke="#1a62da" stroke-width="0.2" text-anchor="middle" font-size="10.1" letter-spacing="0.8" font-family="Liberation Sans">31</text>
<rect x="29.60" y="249.00" width="14.80" height="10" fill="#fff" fill-opacity="0.72"/>
<text x="37.40" y="257.60" fill="#8a1adc" stroke="#8a1adc" stroke-width="0.2" text-anchor="middle" font-size="10.1" letter-spacing="0.8" font-family="Liberation Sans">22</text>
<rect x="260.10" y="200.90" width="14.80" height="10" fill="#fff" fill-opacity="0.72"/>
<text x="267.90" y="209.50" fill="#1a62da" stroke="#1a62da" stroke-width="0.2" text-anchor="middle" font-size="10.1" letter-spacing="0.8" font-family="Liberation Sans">22</text>
<rect x="274.10" y="198.90" width="14.80" height="10" fill="#fff" fill-opacity="0.72"/>
<text x="281.90" y="207.50" fill="#1a62da" stroke="#1a62da" stroke-width="0.2" text-anchor="middle" font-size="10.1" letter-spacing="0.8" font-family="Liberation Sans">49</text>
<rect x="210.40" y="330.60" width="14.80" height="10" fill="#fff" fill-opacity="0.72"/>
<text x="218.20" y="339.20" fill="#1a62da" stroke="#1a62da" stroke-width="0.2" text-anchor="middle" font-size="10.1" letter-spacing="0.8" font-family="Liberation Sans">47</text>
</svg>
<div class="lt" style="left:0;width:303px;text-align:center;top:42.9px;font-size:14.1px;font-weight:bold;line-height:16px;letter-spacing:0.2px">All Channels</div>
<div class="lt" style="left:0;width:304px;text-align:center;top:68.2px;font-size:11px;line-height:12px">TrueNorth</div>
<div class="lt" style="left:0;width:303px;text-align:center;top:390.5px;font-size:12.2px;font-weight:bold;line-height:14px;text-decoration:underline;text-underline-offset:1.6px">Search Criteria</div>
<div class="lt" style="left:0;width:303px;text-align:center;top:413.1px;font-size:11.9px;line-height:12.28px;letter-spacing:0.22px">CURRENT+PENDING<br>Address: exact<br>Zipcode 21013<br>Height: 5.0 ft.<br>&nbsp;<br>&nbsp;<br>db datecode<br>201301112215</div>
<div class="lt" style="left:0;width:304px;text-align:center;top:590px;font-size:13px;line-height:15px;color:#0808d0;text-decoration:underline;text-underline-offset:2.4px;letter-spacing:0.69px">www.tvfool.com</div>
<div class="lt" style="left:346.7px;top:617.2px;width:6.9px;height:11.6px;background:#c40000"></div>
<div class="lt" style="left:347.2px;top:617.6px;font-family:'Liberation Mono';font-size:10.4px;line-height:12px;color:#fff">C</div>
<div class="lt" style="left:360.6px;top:617.3px;font-size:12px;line-height:13px;letter-spacing:0.3px">= Co-channel warning</div>
<div class="lt" style="left:557.5px;top:617.2px;width:6.9px;height:11.6px;background:#ff8080"></div>
<div class="lt" style="left:558.0px;top:617.6px;font-family:'Liberation Mono';font-size:10.4px;line-height:12px;color:#fff">a</div>
<div class="lt" style="left:572.3px;top:617.3px;font-size:12px;line-height:13px;letter-spacing:0.3px">= Adjacent channel warning</div>
<div id="tbl">
<div class="eq" style="left:387.35px;top:13.25px"></div><div class="eq" style="left:394.09px;top:13.25px"></div><div class="eq" style="left:448.01px;top:13.25px"></div><div class="eq" style="left:454.75px;top:13.25px"></div><span style="left:386.80px;top:9.44px;color:#111">  Channel  </span>
<div class="eq" style="left:508.40px;top:13.25px"></div><div class="eq" style="left:515.14px;top:13.25px"></div><div class="eq" style="left:521.88px;top:13.25px"></div><div class="eq" style="left:528.62px;top:13.25px"></div><div class="eq" style="left:535.36px;top:13.25px"></div><div class="eq" style="left:542.10px;top:13.25px"></div><div class="eq" style="left:548.84px;top:13.25px"></div><div class="eq" style="left:555.58px;top:13.25px"></div><div class="eq" style="left:602.76px;top:13.25px"></div><div class="eq" style="left:609.50px;top:13.25px"></div><div class="eq" style="left:616.24px;top:13.25px"></div><div class="eq" style="left:622.98px;top:13.25px"></div><div class="eq" style="left:629.72px;top:13.25px"></div><div class="eq" style="left:636.46px;top:13.25px"></div><div class="eq" style="left:643.20px;top:13.25px"></div><div class="eq" style="left:649.94px;top:13.25px"></div><span style="left:507.85px;top:9.44px;color:#111">        Signal        </span>
<span style="left:675.65px;top:9.44px;color:#111">Dist</span>
<div class="eq" style="left:717.50px;top:13.25px"></div><div class="eq" style="left:724.24px;top:13.25px"></div><div class="eq" style="left:778.16px;top:13.25px"></div><div class="eq" style="left:784.90px;top:13.25px"></div><span style="left:716.95px;top:9.44px;color:#111">  Azimuth  </span>
<span style="left:325.65px;top:20.14px;color:#111">Callsign</span>
<span style="left:386.90px;top:20.14px;color:#111">Real</span>
<span style="left:421.65px;top:20.14px;color:#111">(Virt)</span>
<span style="left:467.90px;top:20.14px;color:#111">Netwk</span>
<span style="left:514.40px;top:20.14px;color:#111">NM(dB)</span>
<span style="left:561.90px;top:20.14px;color:#111">Pwr(dBm)</span>
<span style="left:629.15px;top:20.14px;color:#111">Path</span>
<span style="left:669.40px;top:20.14px;color:#111">miles</span>
<span style="left:716.90px;top:20.14px;color:#111">True</span>
<span style="left:750.65px;top:20.14px;color:#111">(Magn)</span>
<div class="ul"></div>
<div class="row first" style="top:31.30px;background:#e5fae5"><div class="nmc" style="background:#d2e5d2"></div></div>
<span style="left:326.00px;top:32.04px;color:#1a62da">WMAR-TV</span>
<span style="left:400.12px;top:32.04px;color:#1a62da">38</span>
<span style="left:426.30px;top:32.04px;color:#1a62da">(2.1)</span>
<span style="left:474.49px;top:32.04px;color:#1a62da">ABC</span>
<span style="left:521.64px;top:32.04px;color:#1a62da">63.5</span>
<span style="left:575.00px;top:32.04px;color:#1a62da">-27.3</span>
<span style="left:630.19px;top:32.04px;color:#1a62da">LOS</span>
<span style="left:676.64px;top:32.04px;color:#1a62da">16.3</span>
<span style="left:716.24px;top:32.04px;color:#205cb0">208°</span>
<span style="left:749.96px;top:32.04px;color:#205cb0">(219°)</span>
<div class="row" style="top:42.48px;background:#e5fae5"><div class="nmc" style="background:#d2e5d2"></div></div>
<span style="left:326.00px;top:43.22px;color:#1a62da">WBAL-TV</span>
<span style="left:400.12px;top:43.22px;color:#1a62da">11</span>
<span style="left:419.56px;top:43.22px;color:#1a62da">(11.1)</span>
<span style="left:474.49px;top:43.22px;color:#1a62da">NBC</span>
<span style="left:521.64px;top:43.22px;color:#1a62da">55.2</span>
<span style="left:575.00px;top:43.22px;color:#1a62da">-35.7</span>
<span style="left:630.19px;top:43.22px;color:#1a62da">LOS</span>
<span style="left:676.64px;top:43.22px;color:#1a62da">16.3</span>
<span style="left:716.24px;top:43.22px;color:#205cb0">208°</span>
<span style="left:749.96px;top:43.22px;color:#205cb0">(219°)</span>
<div class="row" style="top:53.66px;background:#e5fae5"><div class="nmc" style="background:#d2e5d2"></div></div>
<span style="left:326.00px;top:54.40px;color:#1a62da">WNUV-DT</span>
<span style="left:400.12px;top:54.40px;color:#1a62da">40</span>
<span style="left:419.56px;top:54.40px;color:#1a62da">(54.1)</span>
<span style="left:477.86px;top:54.40px;color:#1a62da">CW</span>
<span style="left:521.64px;top:54.40px;color:#1a62da">54.8</span>
<span style="left:575.00px;top:54.40px;color:#1a62da">-36.0</span>
<span style="left:630.19px;top:54.40px;color:#1a62da">LOS</span>
<span style="left:676.64px;top:54.40px;color:#1a62da">16.2</span>
<span style="left:716.24px;top:54.40px;color:#205cb0">208°</span>
<span style="left:749.96px;top:54.40px;color:#205cb0">(219°)</span>
<div class="row" style="top:64.84px;background:#e5fae5"><div class="nmc" style="background:#d2e5d2"></div></div>
<span style="left:326.00px;top:65.58px;color:#1a62da">WJZ-TV</span>
<span style="left:400.12px;top:65.58px;color:#1a62da">13</span>
<span style="left:419.56px;top:65.58px;color:#1a62da">(13.1)</span>
<span style="left:474.49px;top:65.58px;color:#1a62da">CBS</span>
<span style="left:521.64px;top:65.58px;color:#1a62da">54.7</span>
<span style="left:575.00px;top:65.58px;color:#1a62da">-36.2</span>
<span style="left:630.19px;top:65.58px;color:#1a62da">LOS</span>
<span style="left:676.64px;top:65.58px;color:#1a62da">16.3</span>
<span style="left:716.24px;top:65.58px;color:#205cb0">208°</span>
<span style="left:749.96px;top:65.58px;color:#205cb0">(219°)</span>
<div class="row" style="top:76.02px;background:#e5fae5"><div class="nmc" style="background:#d2e5d2"></div></div>
<span style="left:326.00px;top:76.76px;color:#1a62da">WBFF</span>
<span style="left:400.12px;top:76.76px;color:#1a62da">46</span>
<span style="left:419.56px;top:76.76px;color:#1a62da">(45.1)</span>
<span style="left:474.49px;top:76.76px;color:#1a62da">Fox</span>
<span style="left:521.64px;top:76.76px;color:#1a62da">53.2</span>
<span style="left:575.00px;top:76.76px;color:#1a62da">-37.6</span>
<span style="left:630.19px;top:76.76px;color:#1a62da">LOS</span>
<span style="left:676.64px;top:76.76px;color:#1a62da">16.2</span>
<span style="left:716.24px;top:76.76px;color:#205cb0">208°</span>
<span style="left:749.96px;top:76.76px;color:#205cb0">(219°)</span>
<div class="row" style="top:87.20px;background:#e5fae5"><div class="nmc" style="background:#d2e5d2"></div></div>
<span style="left:326.00px;top:87.94px;color:#1a62da">WMPB-DT</span>
<span style="left:400.12px;top:87.94px;color:#1a62da">29</span>
<span style="left:419.56px;top:87.94px;color:#1a62da">(67.1)</span>
<span style="left:474.49px;top:87.94px;color:#1a62da">PBS</span>
<span style="left:521.64px;top:87.94px;color:#1a62da">49.3</span>
<span style="left:575.00px;top:87.94px;color:#1a62da">-41.6</span>
<span style="left:630.19px;top:87.94px;color:#1a62da">LOS</span>
<span style="left:676.64px;top:87.94px;color:#1a62da">16.0</span>
<span style="left:716.24px;top:87.94px;color:#2a1fa8">246°</span>
<span style="left:749.96px;top:87.94px;color:#2a1fa8">(257°)</span>
<div class="row" style="top:98.38px;background:#e5fae5"><div class="nmc" style="background:#d2e5d2"></div></div>
<span style="left:326.00px;top:99.12px;color:#1a62da">WUTB</span>
<span style="left:400.12px;top:99.12px;color:#1a62da">41</span>
<span style="left:419.56px;top:99.12px;color:#1a62da">(24.1)</span>
<span style="left:474.49px;top:99.12px;color:#1a62da">MyN</span>
<span style="left:521.64px;top:99.12px;color:#1a62da">39.7</span>
<span style="left:575.00px;top:99.12px;color:#1a62da">-51.1</span>
<span style="left:623.45px;top:99.12px;color:#1a62da">1Edge</span>
<span style="left:676.64px;top:99.12px;color:#1a62da">22.2</span>
<span style="left:716.24px;top:99.12px;color:#1f47b0">218°</span>
<span style="left:749.96px;top:99.12px;color:#1f47b0">(229°)</span>
<div class="row" style="top:109.56px;background:#fefde7"><div class="nmc" style="background:#e8e7d3"></div></div>
<span style="left:326.00px;top:110.30px;color:#1a62da">WMPT</span>
<span style="left:400.12px;top:110.30px;color:#1a62da">42</span>
<span style="left:419.56px;top:110.30px;color:#1a62da">(22.1)</span>
<span style="left:474.49px;top:110.30px;color:#1a62da">PBS</span>
<span style="left:521.64px;top:110.30px;color:#1a62da">28.7</span>
<span style="left:575.00px;top:110.30px;color:#1a62da">-62.1</span>
<span style="left:623.45px;top:110.30px;color:#1a62da">1Edge</span>
<span style="left:676.64px;top:110.30px;color:#1a62da">37.2</span>
<span style="left:716.24px;top:110.30px;color:#2080a8">189°</span>
<span style="left:749.96px;top:110.30px;color:#2080a8">(200°)</span>
<div class="row" style="top:120.74px;background:#fef3e7"><div class="nmc" style="background:#e8dfd3"></div></div>
<span style="left:326.00px;top:121.48px;color:#1a62da">WJLA-TV</span>
<span style="left:406.86px;top:121.48px;color:#1a62da">7</span>
<span style="left:426.30px;top:121.48px;color:#1a62da">(7.1)</span>
<span style="left:474.49px;top:121.48px;color:#1a62da">ABC</span>
<span style="left:521.64px;top:121.48px;color:#1a62da">15.1</span>
<span style="left:575.00px;top:121.48px;color:#1a62da">-75.8</span>
<span style="left:623.45px;top:121.48px;color:#1a62da">2Edge</span>
<span style="left:676.64px;top:121.48px;color:#1a62da">51.1</span>
<span style="left:716.24px;top:121.48px;color:#1f48b0">217°</span>
<span style="left:749.96px;top:121.48px;color:#1f48b0">(228°)</span>
<div class="row" style="top:131.92px;background:#fdf1e6"><div class="nmc" style="background:#e8dcd3"></div></div>
<span style="left:326.00px;top:132.66px;color:#1a62da">WDCW</span>
<span style="left:400.12px;top:132.66px;color:#1a62da">50</span>
<span style="left:419.56px;top:132.66px;color:#1a62da">(50.1)</span>
<span style="left:477.86px;top:132.66px;color:#1a62da">CW</span>
<span style="left:521.64px;top:132.66px;color:#1a62da">14.6</span>
<span style="left:575.00px;top:132.66px;color:#1a62da">-76.2</span>
<span style="left:623.45px;top:132.66px;color:#1a62da">2Edge</span>
<span style="left:676.64px;top:132.66px;color:#1a62da">48.8</span>
<span style="left:716.24px;top:132.66px;color:#1f4cb0">215°</span>
<span style="left:749.96px;top:132.66px;color:#1f4cb0">(226°)</span>
<div class="row" style="top:143.10px;background:#fdefe6"><div class="nmc" style="background:#e8dad3"></div></div>
<span style="left:326.00px;top:143.84px;color:#1a62da">WUSA</span>
<span style="left:406.86px;top:143.84px;color:#1a62da">9</span>
<span style="left:474.49px;top:143.84px;color:#1a62da">CBS</span>
<span style="left:521.64px;top:143.84px;color:#1a62da">14.2</span>
<span style="left:575.00px;top:143.84px;color:#1a62da">-76.7</span>
<span style="left:623.45px;top:143.84px;color:#1a62da">2Edge</span>
<span style="left:676.64px;top:143.84px;color:#1a62da">51.1</span>
<span style="left:716.24px;top:143.84px;color:#1f48b0">217°</span>
<span style="left:749.96px;top:143.84px;color:#1f48b0">(228°)</span>
<div class="row" style="top:154.28px;background:#fde6e6"><div class="nmc" style="background:#e7d2d2"></div></div>
<span style="left:326.00px;top:155.02px;color:#1a62da">WMJF-LP</span>
<span style="left:400.12px;top:155.02px;color:#1a62da">19</span>
<span style="left:419.56px;top:155.02px;color:#1a62da">(16.1)</span>
<span style="left:521.64px;top:155.02px;color:#1a62da">12.3</span>
<span style="left:575.00px;top:155.02px;color:#1a62da">-78.5</span>
<span style="left:630.19px;top:155.02px;color:#1a62da">LOS</span>
<span style="left:676.64px;top:155.02px;color:#1a62da">22.2</span>
<span style="left:716.24px;top:155.02px;color:#1f47b0">218°</span>
<span style="left:749.96px;top:155.02px;color:#1f47b0">(229°)</span>
<div class="row" style="top:165.46px;background:#fde6e6"><div class="nmc" style="background:#e7d2d2"></div></div>
<span style="left:326.00px;top:166.20px;color:#1a62da">WHUT-TV</span>
<span style="left:400.12px;top:166.20px;color:#1a62da">33</span>
<span style="left:419.56px;top:166.20px;color:#1a62da">(32.1)</span>
<span style="left:474.49px;top:166.20px;color:#1a62da">PBS</span>
<span style="left:521.64px;top:166.20px;color:#1a62da">11.4</span>
<span style="left:575.00px;top:166.20px;color:#1a62da">-79.5</span>
<span style="left:623.45px;top:166.20px;color:#1a62da">2Edge</span>
<span style="left:676.64px;top:166.20px;color:#1a62da">51.1</span>
<span style="left:716.24px;top:166.20px;color:#1f48b0">217°</span>
<span style="left:749.96px;top:166.20px;color:#1f48b0">(228°)</span>
<div class="row" style="top:176.64px;background:#fde6e6"><div class="nmc" style="background:#e7d2d2"></div></div>
<span style="left:326.00px;top:177.38px;color:#8a1adc">WMJF-LP</span>
<span style="left:400.12px;top:177.38px;color:#8a1adc">16</span>
<span style="left:521.64px;top:177.38px;color:#8a1adc">11.2</span>
<span style="left:575.00px;top:177.38px;color:#8a1adc">-67.6</span>
<span style="left:623.45px;top:177.38px;color:#8a1adc">2Edge</span>
<span style="left:676.64px;top:177.38px;color:#8a1adc">11.5</span>
<span style="left:716.24px;top:177.38px;color:#205cb0">208°</span>
<span style="left:749.96px;top:177.38px;color:#205cb0">(219°)</span>
<div class="bC" style="top:177.64px"></div>
<span style="left:313.00px;top:177.38px;color:#fff">C</span>
<div class="row" style="top:187.82px;background:#fde6e6"><div class="nmc" style="background:#e7d2d2"></div></div>
<span style="left:326.00px;top:188.56px;color:#1a62da">WQAW-LP</span>
<span style="left:400.12px;top:188.56px;color:#1a62da">20</span>
<span style="left:521.64px;top:188.56px;color:#1a62da">10.6</span>
<span style="left:575.00px;top:188.56px;color:#1a62da">-80.2</span>
<span style="left:623.45px;top:188.56px;color:#1a62da">1Edge</span>
<span style="left:676.64px;top:188.56px;color:#1a62da">37.2</span>
<span style="left:716.24px;top:188.56px;color:#2080a8">189°</span>
<span style="left:749.96px;top:188.56px;color:#2080a8">(200°)</span>
<div class="row" style="top:199.00px;background:#fde6e6"><div class="nmc" style="background:#e7d2d2"></div></div>
<span style="left:326.00px;top:199.74px;color:#1a62da">WGAL</span>
<span style="left:406.86px;top:199.74px;color:#1a62da">8</span>
<span style="left:426.30px;top:199.74px;color:#1a62da">(8.1)</span>
<span style="left:474.49px;top:199.74px;color:#1a62da">NBC</span>
<span style="left:521.64px;top:199.74px;color:#1a62da">10.1</span>
<span style="left:575.00px;top:199.74px;color:#1a62da">-80.8</span>
<span style="left:623.45px;top:199.74px;color:#1a62da">2Edge</span>
<span style="left:676.64px;top:199.74px;color:#1a62da">34.4</span>
<span style="left:716.24px;top:199.74px;color:#d01b3b">350°</span>
<span style="left:763.44px;top:199.74px;color:#d01b3b">(1°)</span>
<div class="row" style="top:210.18px;background:#fde6e6"><div class="nmc" style="background:#e7d2d2"></div></div>
<span style="left:326.00px;top:210.92px;color:#1a62da">WPXW-DT</span>
<span style="left:400.12px;top:210.92px;color:#1a62da">34</span>
<span style="left:419.56px;top:210.92px;color:#1a62da">(66.1)</span>
<span style="left:474.49px;top:210.92px;color:#1a62da">ION</span>
<span style="left:528.38px;top:210.92px;color:#1a62da">9.4</span>
<span style="left:575.00px;top:210.92px;color:#1a62da">-81.4</span>
<span style="left:623.45px;top:210.92px;color:#1a62da">2Edge</span>
<span style="left:676.64px;top:210.92px;color:#1a62da">51.1</span>
<span style="left:716.24px;top:210.92px;color:#1f48b0">217°</span>
<span style="left:749.96px;top:210.92px;color:#1f48b0">(228°)</span>
<div class="bC" style="top:211.18px"></div>
<span style="left:313.00px;top:210.92px;color:#fff">C</span>
<div class="row" style="top:221.36px;background:#fde6e6"><div class="nmc" style="background:#e7d2d2"></div></div>
<span style="left:326.00px;top:222.10px;color:#1a62da">WTTG</span>
<span style="left:400.12px;top:222.10px;color:#1a62da">36</span>
<span style="left:426.30px;top:222.10px;color:#1a62da">(5.1)</span>
<span style="left:474.49px;top:222.10px;color:#1a62da">Fox</span>
<span style="left:528.38px;top:222.10px;color:#1a62da">8.8</span>
<span style="left:575.00px;top:222.10px;color:#1a62da">-82.0</span>
<span style="left:623.45px;top:222.10px;color:#1a62da">2Edge</span>
<span style="left:676.64px;top:222.10px;color:#1a62da">50.9</span>
<span style="left:716.24px;top:222.10px;color:#1f47b0">218°</span>
<span style="left:749.96px;top:222.10px;color:#1f47b0">(229°)</span>
<div class="row" style="top:232.54px;background:#fde6e6"><div class="nmc" style="background:#e7d2d2"></div></div>
<span style="left:326.00px;top:233.28px;color:#1a62da">WDCA</span>
<span style="left:400.12px;top:233.28px;color:#1a62da">35</span>
<span style="left:474.49px;top:233.28px;color:#1a62da">MyN</span>
<span style="left:528.38px;top:233.28px;color:#1a62da">8.7</span>
<span style="left:575.00px;top:233.28px;color:#1a62da">-82.1</span>
<span style="left:623.45px;top:233.28px;color:#1a62da">2Edge</span>
<span style="left:676.64px;top:233.28px;color:#1a62da">50.9</span>
<span style="left:716.24px;top:233.28px;color:#1f47b0">218°</span>
<span style="left:749.96px;top:233.28px;color:#1f47b0">(229°)</span>
<div class="bC" style="top:233.54px"></div>
<span style="left:313.00px;top:233.28px;color:#fff">C</span>
<div class="row" style="top:243.72px;background:#fde6e6"><div class="nmc" style="background:#e7d2d2"></div></div>
<span style="left:326.00px;top:244.46px;color:#1a62da">WGCB-DT</span>
<span style="left:400.12px;top:244.46px;color:#1a62da">30</span>
<span style="left:419.56px;top:244.46px;color:#1a62da">(49.1)</span>
<span style="left:474.49px;top:244.46px;color:#1a62da">Ind</span>
<span style="left:528.38px;top:244.46px;color:#1a62da">8.0</span>
<span style="left:575.00px;top:244.46px;color:#1a62da">-82.8</span>
<span style="left:623.45px;top:244.46px;color:#1a62da">2Edge</span>
<span style="left:676.64px;top:244.46px;color:#1a62da">25.3</span>
<span style="left:716.24px;top:244.46px;color:#d01b3a">351°</span>
<span style="left:763.44px;top:244.46px;color:#d01b3a">(2°)</span>
<div class="bC" style="top:244.72px"></div>
<span style="left:313.00px;top:244.46px;color:#fff">C</span>
<div class="ba" style="top:244.72px"></div>
<span style="left:306.30px;top:244.46px;color:#fff">a</span>
<div class="row" style="top:254.90px;background:#fde6e6"><div class="nmc" style="background:#e7d2d2"></div></div>
<span style="left:326.00px;top:255.64px;color:#1a62da">WPMT</span>
<span style="left:400.12px;top:255.64px;color:#1a62da">47</span>
<span style="left:419.56px;top:255.64px;color:#1a62da">(43.1)</span>
<span style="left:474.49px;top:255.64px;color:#1a62da">Fox</span>
<span style="left:528.38px;top:255.64px;color:#1a62da">7.4</span>
<span style="left:575.00px;top:255.64px;color:#1a62da">-83.4</span>
<span style="left:623.45px;top:255.64px;color:#1a62da">2Edge</span>
<span style="left:676.64px;top:255.64px;color:#1a62da">33.9</span>
<span style="left:716.24px;top:255.64px;color:#d01b39">352°</span>
<span style="left:763.44px;top:255.64px;color:#d01b39">(3°)</span>
<div class="bC" style="top:255.90px"></div>
<span style="left:313.00px;top:255.64px;color:#fff">C</span>
<div class="ba" style="top:255.90px"></div>
<span style="left:306.30px;top:255.64px;color:#fff">a</span>
<div class="row" style="top:266.08px;background:#fde6e6"><div class="nmc" style="background:#e7d2d2"></div></div>
<span style="left:326.00px;top:266.82px;color:#1a62da">WRC-DT</span>
<span style="left:400.12px;top:266.82px;color:#1a62da">48</span>
<span style="left:426.30px;top:266.82px;color:#1a62da">(4.1)</span>
<span style="left:474.49px;top:266.82px;color:#1a62da">NBC</span>
<span style="left:528.38px;top:266.82px;color:#1a62da">7.2</span>
<span style="left:575.00px;top:266.82px;color:#1a62da">-83.7</span>
<span style="left:623.45px;top:266.82px;color:#1a62da">2Edge</span>
<span style="left:676.64px;top:266.82px;color:#1a62da">51.8</span>
<span style="left:716.24px;top:266.82px;color:#1f48b0">217°</span>
<span style="left:749.96px;top:266.82px;color:#1f48b0">(228°)</span>
<div class="row" style="top:277.26px;background:#fde6e6"><div class="nmc" style="background:#e7d2d2"></div></div>
<span style="left:326.00px;top:278.00px;color:#1a62da">W22DA</span>
<span style="left:400.12px;top:278.00px;color:#1a62da">16</span>
<span style="left:419.56px;top:278.00px;color:#1a62da">(22.1)</span>
<span style="left:528.38px;top:278.00px;color:#1a62da">6.3</span>
<span style="left:575.00px;top:278.00px;color:#1a62da">-84.5</span>
<span style="left:623.45px;top:278.00px;color:#1a62da">2Edge</span>
<span style="left:676.64px;top:278.00px;color:#1a62da">53.2</span>
<span style="left:716.24px;top:278.00px;color:#5118be">267°</span>
<span style="left:749.96px;top:278.00px;color:#5118be">(278°)</span>
<div class="bC" style="top:278.26px"></div>
<span style="left:313.00px;top:278.00px;color:#fff">C</span>
<div class="row" style="top:288.44px;background:#fde6e6"><div class="nmc" style="background:#e7d2d2"></div></div>
<span style="left:326.00px;top:289.18px;color:#1a62da">WPVI-DT</span>
<span style="left:406.86px;top:289.18px;color:#1a62da">6</span>
<span style="left:426.30px;top:289.18px;color:#1a62da">(6.1)</span>
<span style="left:474.49px;top:289.18px;color:#1a62da">ABC</span>
<span style="left:528.38px;top:289.18px;color:#1a62da">4.6</span>
<span style="left:575.00px;top:289.18px;color:#1a62da">-86.3</span>
<span style="left:623.45px;top:289.18px;color:#1a62da">2Edge</span>
<span style="left:676.64px;top:289.18px;color:#1a62da">75.8</span>
<span style="left:722.98px;top:289.18px;color:#c49a1e">62°</span>
<span style="left:756.70px;top:289.18px;color:#c49a1e">(74°)</span>
<div class="bC" style="top:289.44px"></div>
<span style="left:313.00px;top:289.18px;color:#fff">C</span>
<div class="row" style="top:299.62px;background:#fde6e6"><div class="nmc" style="background:#e7d2d2"></div></div>
<span style="left:326.00px;top:300.36px;color:#1a62da">WFDC-DT</span>
<span style="left:400.12px;top:300.36px;color:#1a62da">15</span>
<span style="left:474.49px;top:300.36px;color:#1a62da">Uni</span>
<span style="left:528.38px;top:300.36px;color:#1a62da">3.3</span>
<span style="left:575.00px;top:300.36px;color:#1a62da">-87.5</span>
<span style="left:623.45px;top:300.36px;color:#1a62da">2Edge</span>
<span style="left:676.64px;top:300.36px;color:#1a62da">51.8</span>
<span style="left:716.24px;top:300.36px;color:#1f48b0">217°</span>
<span style="left:749.96px;top:300.36px;color:#1f48b0">(228°)</span>
<div class="row" style="top:310.80px;background:#fde6e6"><div class="nmc" style="background:#e7d2d2"></div></div>
<span style="left:326.00px;top:311.54px;color:#1a62da">KYW-TV</span>
<span style="left:400.12px;top:311.54px;color:#1a62da">26</span>
<span style="left:426.30px;top:311.54px;color:#1a62da">(3.1)</span>
<span style="left:474.49px;top:311.54px;color:#1a62da">CBS</span>
<span style="left:528.38px;top:311.54px;color:#1a62da">2.2</span>
<span style="left:575.00px;top:311.54px;color:#1a62da">-88.6</span>
<span style="left:623.45px;top:311.54px;color:#1a62da">2Edge</span>
<span style="left:676.64px;top:311.54px;color:#1a62da">75.6</span>
<span style="left:722.98px;top:311.54px;color:#c49a1e">62°</span>
<span style="left:756.70px;top:311.54px;color:#c49a1e">(74°)</span>
<div class="bC" style="top:311.80px"></div>
<span style="left:313.00px;top:311.54px;color:#fff">C</span>
<div class="row" style="top:321.98px;background:#fde6e6"><div class="nmc" style="background:#e7d2d2"></div></div>
<span style="left:326.00px;top:322.72px;color:#1a62da">WCAU</span>
<span style="left:400.12px;top:322.72px;color:#1a62da">34</span>
<span style="left:419.56px;top:322.72px;color:#1a62da">(10.1)</span>
<span style="left:474.49px;top:322.72px;color:#1a62da">NBC</span>
<span style="left:528.38px;top:322.72px;color:#1a62da">1.3</span>
<span style="left:575.00px;top:322.72px;color:#1a62da">-89.6</span>
<span style="left:623.45px;top:322.72px;color:#1a62da">2Edge</span>
<span style="left:676.64px;top:322.72px;color:#1a62da">75.9</span>
<span style="left:722.98px;top:322.72px;color:#c49c1e">63°</span>
<span style="left:756.70px;top:322.72px;color:#c49c1e">(74°)</span>
<div class="bC" style="top:322.98px"></div>
<span style="left:313.00px;top:322.72px;color:#fff">C</span>
<div class="row" style="top:333.16px;background:#fde6e6"><div class="nmc" style="background:#e7d2d2"></div></div>
<span style="left:326.00px;top:333.90px;color:#1a62da">WPHL-DT</span>
<span style="left:400.12px;top:333.90px;color:#1a62da">17</span>
<span style="left:419.56px;top:333.90px;color:#1a62da">(17.1)</span>
<span style="left:474.49px;top:333.90px;color:#1a62da">MyN</span>
<span style="left:528.38px;top:333.90px;color:#1a62da">1.1</span>
<span style="left:575.00px;top:333.90px;color:#1a62da">-89.7</span>
<span style="left:623.45px;top:333.90px;color:#1a62da">2Edge</span>
<span style="left:676.64px;top:333.90px;color:#1a62da">75.7</span>
<span style="left:722.98px;top:333.90px;color:#c49c1e">63°</span>
<span style="left:756.70px;top:333.90px;color:#c49c1e">(74°)</span>
<div class="row" style="top:344.34px;background:#fde6e6"><div class="nmc" style="background:#e7d2d2"></div></div>
<span style="left:326.00px;top:345.08px;color:#8a1adc">WIAV-LP</span>
<span style="left:406.86px;top:345.08px;color:#8a1adc">4</span>
<span style="left:528.38px;top:345.08px;color:#8a1adc">1.1</span>
<span style="left:575.00px;top:345.08px;color:#8a1adc">-77.8</span>
<span style="left:623.45px;top:345.08px;color:#8a1adc">2Edge</span>
<span style="left:676.64px;top:345.08px;color:#8a1adc">51.8</span>
<span style="left:716.24px;top:345.08px;color:#1f48b0">217°</span>
<span style="left:749.96px;top:345.08px;color:#1f48b0">(228°)</span>
<div class="bC" style="top:345.34px"></div>
<span style="left:313.00px;top:345.08px;color:#fff">C</span>
<div class="row" style="top:355.52px;background:#fde6e6"><div class="nmc" style="background:#e7d2d2"></div></div>
<span style="left:326.00px;top:356.26px;color:#1a62da">WETA-TV</span>
<span style="left:400.12px;top:356.26px;color:#1a62da">27</span>
<span style="left:474.49px;top:356.26px;color:#1a62da">PBS</span>
<span style="left:528.38px;top:356.26px;color:#1a62da">0.9</span>
<span style="left:575.00px;top:356.26px;color:#1a62da">-90.0</span>
<span style="left:623.45px;top:356.26px;color:#1a62da">2Edge</span>
<span style="left:676.64px;top:356.26px;color:#1a62da">51.1</span>
<span style="left:716.24px;top:356.26px;color:#1f48b0">217°</span>
<span style="left:749.96px;top:356.26px;color:#1f48b0">(228°)</span>
<div class="bC" style="top:356.52px"></div>
<span style="left:313.00px;top:356.26px;color:#fff">C</span>
<div class="row" style="top:366.70px;background:#fde6e6"><div class="nmc" style="background:#e7d2d2"></div></div>
<span style="left:326.00px;top:367.44px;color:#1a62da">WYBE</span>
<span style="left:400.12px;top:367.44px;color:#1a62da">35</span>
<span style="left:419.56px;top:367.44px;color:#1a62da">(35.1)</span>
<span style="left:474.49px;top:367.44px;color:#1a62da">Ind</span>
<span style="left:521.64px;top:367.44px;color:#1a62da">-2.7</span>
<span style="left:575.00px;top:367.44px;color:#1a62da">-93.5</span>
<span style="left:623.45px;top:367.44px;color:#1a62da">2Edge</span>
<span style="left:676.64px;top:367.44px;color:#1a62da">75.9</span>
<span style="left:722.98px;top:367.44px;color:#c49c1e">63°</span>
<span style="left:756.70px;top:367.44px;color:#c49c1e">(74°)</span>
<div class="bC" style="top:367.70px"></div>
<span style="left:313.00px;top:367.44px;color:#fff">C</span>
<div class="row" style="top:377.88px;background:#fde6e6"><div class="nmc" style="background:#e7d2d2"></div></div>
<span style="left:326.00px;top:378.62px;color:#1a62da">WNDC-LP</span>
<span style="left:406.86px;top:378.62px;color:#1a62da">2</span>
<span style="left:419.56px;top:378.62px;color:#1a62da">(11.1)</span>
<span style="left:521.64px;top:378.62px;color:#1a62da">-2.7</span>
<span style="left:575.00px;top:378.62px;color:#1a62da">-93.5</span>
<span style="left:623.45px;top:378.62px;color:#1a62da">2Edge</span>
<span style="left:676.64px;top:378.62px;color:#1a62da">82.9</span>
<span style="left:716.24px;top:378.62px;color:#1a8a5a">150°</span>
<span style="left:749.96px;top:378.62px;color:#1a8a5a">(161°)</span>
<div class="row" style="top:389.06px;background:#fde6e6"><div class="nmc" style="background:#e7d2d2"></div></div>
<span style="left:326.00px;top:389.80px;color:#1a62da">W45DN-D</span>
<span style="left:400.12px;top:389.80px;color:#1a62da">45</span>
<span style="left:521.64px;top:389.80px;color:#1a62da">-2.8</span>
<span style="left:575.00px;top:389.80px;color:#1a62da">-93.6</span>
<span style="left:623.45px;top:389.80px;color:#1a62da">2Edge</span>
<span style="left:676.64px;top:389.80px;color:#1a62da">43.9</span>
<span style="left:716.24px;top:389.80px;color:#1f81a0">185°</span>
<span style="left:749.96px;top:389.80px;color:#1f81a0">(196°)</span>
<div class="ba" style="top:390.06px"></div>
<span style="left:306.30px;top:389.80px;color:#fff">a</span>
<div class="row" style="top:400.24px;background:#fde6e6"><div class="nmc" style="background:#e7d2d2"></div></div>
<span style="left:326.00px;top:400.98px;color:#1a62da">WACP</span>
<span style="left:406.86px;top:400.98px;color:#1a62da">4</span>
<span style="left:521.64px;top:400.98px;color:#1a62da">-3.3</span>
<span style="left:575.00px;top:400.98px;color:#1a62da">-94.1</span>
<span style="left:623.45px;top:400.98px;color:#1a62da">2Edge</span>
<span style="left:676.64px;top:400.98px;color:#1a62da">89.8</span>
<span style="left:722.98px;top:400.98px;color:#979d1d">81°</span>
<span style="left:756.70px;top:400.98px;color:#979d1d">(92°)</span>
<div class="bC" style="top:401.24px"></div>
<span style="left:313.00px;top:400.98px;color:#fff">C</span>
<div class="row" style="top:411.42px;background:#fde6e6"><div class="nmc" style="background:#e7d2d2"></div></div>
<span style="left:326.00px;top:412.16px;color:#1a62da">WNVC-DT</span>
<span style="left:400.12px;top:412.16px;color:#1a62da">24</span>
<span style="left:419.56px;top:412.16px;color:#1a62da">(30.1)</span>
<span style="left:474.49px;top:412.16px;color:#1a62da">Ind</span>
<span style="left:521.64px;top:412.16px;color:#1a62da">-3.3</span>
<span style="left:575.00px;top:412.16px;color:#1a62da">-94.2</span>
<span style="left:623.45px;top:412.16px;color:#1a62da">2Edge</span>
<span style="left:676.64px;top:412.16px;color:#1a62da">60.0</span>
<span style="left:716.24px;top:412.16px;color:#2044af">220°</span>
<span style="left:749.96px;top:412.16px;color:#2044af">(231°)</span>
<div class="bC" style="top:412.42px"></div>
<span style="left:313.00px;top:412.16px;color:#fff">C</span>
<div class="row" style="top:422.60px;background:#f5e6e6"><div class="nmc" style="background:#e0d2d2"></div></div>
<span style="left:326.00px;top:423.34px;color:#1a62da">WFPT-DT</span>
<span style="left:400.12px;top:423.34px;color:#1a62da">28</span>
<span style="left:419.56px;top:423.34px;color:#1a62da">(62.1)</span>
<span style="left:474.49px;top:423.34px;color:#1a62da">PBS</span>
<span style="left:521.64px;top:423.34px;color:#1a62da">-4.8</span>
<span style="left:575.00px;top:423.34px;color:#1a62da">-95.6</span>
<span style="left:623.45px;top:423.34px;color:#1a62da">2Edge</span>
<span style="left:676.64px;top:423.34px;color:#1a62da">47.3</span>
<span style="left:716.24px;top:423.34px;color:#2a1fa8">246°</span>
<span style="left:749.96px;top:423.34px;color:#2a1fa8">(257°)</span>
<div class="bC" style="top:423.60px"></div>
<span style="left:313.00px;top:423.34px;color:#fff">C</span>
<div class="ba" style="top:423.60px"></div>
<span style="left:306.30px;top:423.34px;color:#fff">a</span>
<div class="row" style="top:433.78px;background:#f4e6e6"><div class="nmc" style="background:#e0d2d2"></div></div>
<span style="left:326.00px;top:434.52px;color:#1a62da">WBOC-DT</span>
<span style="left:400.12px;top:434.52px;color:#1a62da">21</span>
<span style="left:419.56px;top:434.52px;color:#1a62da">(16.1)</span>
<span style="left:474.49px;top:434.52px;color:#1a62da">CBS</span>
<span style="left:521.64px;top:434.52px;color:#1a62da">-4.9</span>
<span style="left:575.00px;top:434.52px;color:#1a62da">-95.7</span>
<span style="left:623.45px;top:434.52px;color:#1a62da">2Edge</span>
<span style="left:676.64px;top:434.52px;color:#1a62da">85.3</span>
<span style="left:716.24px;top:434.52px;color:#1c8b56">147°</span>
<span style="left:749.96px;top:434.52px;color:#1c8b56">(158°)</span>
<div class="bC" style="top:434.78px"></div>
<span style="left:313.00px;top:434.52px;color:#fff">C</span>
<div class="row" style="top:444.96px;background:#f0e5e5"><div class="nmc" style="background:#dbd2d2"></div></div>
<span style="left:326.00px;top:445.70px;color:#1a62da">WPSG-DT</span>
<span style="left:400.12px;top:445.70px;color:#1a62da">32</span>
<span style="left:419.56px;top:445.70px;color:#1a62da">(57.1)</span>
<span style="left:477.86px;top:445.70px;color:#1a62da">CW</span>
<span style="left:521.64px;top:445.70px;color:#1a62da">-5.4</span>
<span style="left:575.00px;top:445.70px;color:#1a62da">-96.3</span>
<span style="left:623.45px;top:445.70px;color:#1a62da">2Edge</span>
<span style="left:676.64px;top:445.70px;color:#1a62da">75.9</span>
<span style="left:722.98px;top:445.70px;color:#c49c1e">63°</span>
<span style="left:756.70px;top:445.70px;color:#c49c1e">(74°)</span>
<div class="bC" style="top:445.96px"></div>
<span style="left:313.00px;top:445.70px;color:#fff">C</span>
<div class="row" style="top:456.14px;background:#ede5e5"><div class="nmc" style="background:#d9d2d2"></div></div>
<span style="left:326.00px;top:456.88px;color:#1a62da">WTVE</span>
<span style="left:400.12px;top:456.88px;color:#1a62da">25</span>
<span style="left:419.56px;top:456.88px;color:#1a62da">(51.1)</span>
<span style="left:474.49px;top:456.88px;color:#1a62da">Ind</span>
<span style="left:521.64px;top:456.88px;color:#1a62da">-5.7</span>
<span style="left:575.00px;top:456.88px;color:#1a62da">-96.5</span>
<span style="left:623.45px;top:456.88px;color:#1a62da">2Edge</span>
<span style="left:676.64px;top:456.88px;color:#1a62da">75.9</span>
<span style="left:722.98px;top:456.88px;color:#c49c1e">63°</span>
<span style="left:756.70px;top:456.88px;color:#c49c1e">(74°)</span>
<div class="bC" style="top:457.14px"></div>
<span style="left:313.00px;top:456.88px;color:#fff">C</span>
<div class="row" style="top:467.32px;background:#e5e5e5"><div class="nmc" style="background:#d2d2d2"></div></div>
<span style="left:326.00px;top:468.06px;color:#1a62da">WLYH-DT</span>
<span style="left:400.12px;top:468.06px;color:#1a62da">23</span>
<span style="left:419.56px;top:468.06px;color:#1a62da">(15.1)</span>
<span style="left:477.86px;top:468.06px;color:#1a62da">CW</span>
<span style="left:521.64px;top:468.06px;color:#1a62da">-6.9</span>
<span style="left:575.00px;top:468.06px;color:#1a62da">-97.8</span>
<span style="left:623.45px;top:468.06px;color:#1a62da">2Edge</span>
<span style="left:676.64px;top:468.06px;color:#1a62da">49.7</span>
<span style="left:729.72px;top:468.06px;color:#d01e2e">3°</span>
<span style="left:756.70px;top:468.06px;color:#d01e2e">(14°)</span>
<div class="bC" style="top:468.32px"></div>
<span style="left:313.00px;top:468.06px;color:#fff">C</span>
<div class="row" style="top:478.50px;background:#e5e5e5"><div class="nmc" style="background:#d2d2d2"></div></div>
<span style="left:326.00px;top:479.24px;color:#1a62da">WTXF-TV</span>
<span style="left:400.12px;top:479.24px;color:#1a62da">42</span>
<span style="left:419.56px;top:479.24px;color:#1a62da">(29.1)</span>
<span style="left:474.49px;top:479.24px;color:#1a62da">Fox</span>
<span style="left:521.64px;top:479.24px;color:#1a62da">-7.2</span>
<span style="left:575.00px;top:479.24px;color:#1a62da">-98.1</span>
<span style="left:623.45px;top:479.24px;color:#1a62da">2Edge</span>
<span style="left:676.64px;top:479.24px;color:#1a62da">75.7</span>
<span style="left:722.98px;top:479.24px;color:#c49c1e">63°</span>
<span style="left:756.70px;top:479.24px;color:#c49c1e">(74°)</span>
<div class="bC" style="top:479.50px"></div>
<span style="left:313.00px;top:479.24px;color:#fff">C</span>
<div class="ba" style="top:479.50px"></div>
<span style="left:306.30px;top:479.24px;color:#fff">a</span>
<div class="row" style="top:489.68px;background:#e5e5e5"><div class="nmc" style="background:#d2d2d2"></div></div>
<span style="left:326.00px;top:490.42px;color:#1a62da">WWPX-DT</span>
<span style="left:400.12px;top:490.42px;color:#1a62da">12</span>
<span style="left:419.56px;top:490.42px;color:#1a62da">(60.1)</span>
<span style="left:474.49px;top:490.42px;color:#1a62da">ION</span>
<span style="left:521.64px;top:490.42px;color:#1a62da">-7.5</span>
<span style="left:575.00px;top:490.42px;color:#1a62da">-98.4</span>
<span style="left:623.45px;top:490.42px;color:#1a62da">2Edge</span>
<span style="left:676.64px;top:490.42px;color:#1a62da">83.5</span>
<span style="left:716.24px;top:490.42px;color:#5018be">266°</span>
<span style="left:749.96px;top:490.42px;color:#5018be">(278°)</span>
<div class="bC" style="top:490.68px"></div>
<span style="left:313.00px;top:490.42px;color:#fff">C</span>
<div class="ba" style="top:490.68px"></div>
<span style="left:306.30px;top:490.42px;color:#fff">a</span>
<div class="row" style="top:500.86px;background:#e5e5e5"><div class="nmc" style="background:#d2d2d2"></div></div>
<span style="left:326.00px;top:501.60px;color:#1a62da">WUVP-DT</span>
<span style="left:400.12px;top:501.60px;color:#1a62da">29</span>
<span style="left:419.56px;top:501.60px;color:#1a62da">(65.1)</span>
<span style="left:474.49px;top:501.60px;color:#1a62da">Uni</span>
<span style="left:521.64px;top:501.60px;color:#1a62da">-7.7</span>
<span style="left:575.00px;top:501.60px;color:#1a62da">-98.5</span>
<span style="left:623.45px;top:501.60px;color:#1a62da">2Edge</span>
<span style="left:676.64px;top:501.60px;color:#1a62da">75.9</span>
<span style="left:722.98px;top:501.60px;color:#c49c1e">63°</span>
<span style="left:756.70px;top:501.60px;color:#c49c1e">(74°)</span>
<div class="bC" style="top:501.86px"></div>
<span style="left:313.00px;top:501.60px;color:#fff">C</span>
<div class="ba" style="top:501.86px"></div>
<span style="left:306.30px;top:501.60px;color:#fff">a</span>
<div class="row" style="top:512.04px;background:#e5e5e5"><div class="nmc" style="background:#d2d2d2"></div></div>
<span style="left:326.00px;top:512.78px;color:#1a62da">WGTW-DT</span>
<span style="left:400.12px;top:512.78px;color:#1a62da">27</span>
<span style="left:419.56px;top:512.78px;color:#1a62da">(48.1)</span>
<span style="left:474.49px;top:512.78px;color:#1a62da">Ind</span>
<span style="left:521.64px;top:512.78px;color:#1a62da">-8.0</span>
<span style="left:575.00px;top:512.78px;color:#1a62da">-98.8</span>
<span style="left:623.45px;top:512.78px;color:#1a62da">2Edge</span>
<span style="left:676.64px;top:512.78px;color:#1a62da">75.9</span>
<span style="left:722.98px;top:512.78px;color:#c49c1e">63°</span>
<span style="left:756.70px;top:512.78px;color:#c49c1e">(74°)</span>
<div class="bC" style="top:513.04px"></div>
<span style="left:313.00px;top:512.78px;color:#fff">C</span>
<div class="row" style="top:523.22px;background:#e5e5e5"><div class="nmc" style="background:#d2d2d2"></div></div>
<span style="left:326.00px;top:523.96px;color:#1a62da">WHYY-TV</span>
<span style="left:400.12px;top:523.96px;color:#1a62da">12</span>
<span style="left:419.56px;top:523.96px;color:#1a62da">(12.1)</span>
<span style="left:474.49px;top:523.96px;color:#1a62da">PBS</span>
<span style="left:521.64px;top:523.96px;color:#1a62da">-8.0</span>
<span style="left:575.00px;top:523.96px;color:#1a62da">-98.9</span>
<span style="left:623.45px;top:523.96px;color:#1a62da">2Edge</span>
<span style="left:676.64px;top:523.96px;color:#1a62da">75.7</span>
<span style="left:722.98px;top:523.96px;color:#c49c1e">63°</span>
<span style="left:756.70px;top:523.96px;color:#c49c1e">(74°)</span>
<div class="bC" style="top:524.22px"></div>
<span style="left:313.00px;top:523.96px;color:#fff">C</span>
<div class="ba" style="top:524.22px"></div>
<span style="left:306.30px;top:523.96px;color:#fff">a</span>
<div class="row" style="top:534.40px;background:#e5e5e5"><div class="nmc" style="background:#d2d2d2"></div></div>
<span style="left:326.00px;top:535.14px;color:#1a62da">WFPA-CA</span>
<span style="left:406.86px;top:535.14px;color:#1a62da">3</span>
<span style="left:419.56px;top:535.14px;color:#1a62da">(28.1)</span>
<span style="left:521.64px;top:535.14px;color:#1a62da">-8.4</span>
<span style="left:575.00px;top:535.14px;color:#1a62da">-99.3</span>
<span style="left:623.45px;top:535.14px;color:#1a62da">2Edge</span>
<span style="left:676.64px;top:535.14px;color:#1a62da">75.9</span>
<span style="left:722.98px;top:535.14px;color:#c49c1e">63°</span>
<span style="left:756.70px;top:535.14px;color:#c49c1e">(74°)</span>
<div class="row" style="top:545.58px;background:#e5e5e5"><div class="nmc" style="background:#d2d2d2"></div></div>
<span style="left:326.00px;top:546.32px;color:#1a62da">WPPX-DT</span>
<span style="left:400.12px;top:546.32px;color:#1a62da">31</span>
<span style="left:419.56px;top:546.32px;color:#1a62da">(61.1)</span>
<span style="left:474.49px;top:546.32px;color:#1a62da">ION</span>
<span style="left:521.64px;top:546.32px;color:#1a62da">-8.6</span>
<span style="left:575.00px;top:546.32px;color:#1a62da">-99.4</span>
<span style="left:623.45px;top:546.32px;color:#1a62da">2Edge</span>
<span style="left:676.64px;top:546.32px;color:#1a62da">75.9</span>
<span style="left:722.98px;top:546.32px;color:#c49c1e">63°</span>
<span style="left:756.70px;top:546.32px;color:#c49c1e">(74°)</span>
<div class="bC" style="top:546.58px"></div>
<span style="left:313.00px;top:546.32px;color:#fff">C</span>
<div class="row" style="top:556.76px;background:#e5e5e5"><div class="nmc" style="background:#d2d2d2"></div></div>
<span style="left:326.00px;top:557.50px;color:#1a62da">WHTM-DT</span>
<span style="left:400.12px;top:557.50px;color:#1a62da">10</span>
<span style="left:419.56px;top:557.50px;color:#1a62da">(27.1)</span>
<span style="left:474.49px;top:557.50px;color:#1a62da">ABC</span>
<span style="left:521.64px;top:557.50px;color:#1a62da">-8.6</span>
<span style="left:575.00px;top:557.50px;color:#1a62da">-99.5</span>
<span style="left:623.45px;top:557.50px;color:#1a62da">2Edge</span>
<span style="left:676.64px;top:557.50px;color:#1a62da">58.3</span>
<span style="left:716.24px;top:557.50px;color:#d0204a">336°</span>
<span style="left:749.96px;top:557.50px;color:#d0204a">(348°)</span>
<div class="bC" style="top:557.76px"></div>
<span style="left:313.00px;top:557.50px;color:#fff">C</span>
<div class="ba" style="top:557.76px"></div>
<span style="left:306.30px;top:557.50px;color:#fff">a</span>
<div class="row" style="top:567.94px;background:#e5e5e5"><div class="nmc" style="background:#d2d2d2"></div></div>
<span style="left:326.00px;top:568.68px;color:#1a62da">WHAG-DT</span>
<span style="left:400.12px;top:568.68px;color:#1a62da">26</span>
<span style="left:419.56px;top:568.68px;color:#1a62da">(25.1)</span>
<span style="left:474.49px;top:568.68px;color:#1a62da">NBC</span>
<span style="left:514.90px;top:568.68px;color:#1a62da">-11.4</span>
<span style="left:568.26px;top:568.68px;color:#1a62da">-102.3</span>
<span style="left:623.45px;top:568.68px;color:#1a62da">2Edge</span>
<span style="left:676.64px;top:568.68px;color:#1a62da">78.3</span>
<span style="left:716.24px;top:568.68px;color:#5c18c0">277°</span>
<span style="left:749.96px;top:568.68px;color:#5c18c0">(288°)</span>
<div class="bC" style="top:568.94px"></div>
<span style="left:313.00px;top:568.68px;color:#fff">C</span>
<div class="row" style="top:579.12px;background:#e5e5e5"><div class="nmc" style="background:#d2d2d2"></div></div>
<span style="left:326.00px;top:579.86px;color:#1a62da">WWDD-LP</span>
<span style="left:400.12px;top:579.86px;color:#1a62da">49</span>
<span style="left:419.56px;top:579.86px;color:#1a62da">(40.1)</span>
<span style="left:514.90px;top:579.86px;color:#1a62da">-12.0</span>
<span style="left:568.26px;top:579.86px;color:#1a62da">-102.9</span>
<span style="left:623.45px;top:579.86px;color:#1a62da">2Edge</span>
<span style="left:676.64px;top:579.86px;color:#1a62da">35.7</span>
<span style="left:722.98px;top:579.86px;color:#a69c1c">74°</span>
<span style="left:756.70px;top:579.86px;color:#a69c1c">(86°)</span>
<div class="bC" style="top:580.12px"></div>
<span style="left:313.00px;top:579.86px;color:#fff">C</span>
<div class="ba" style="top:580.12px"></div>
<span style="left:306.30px;top:579.86px;color:#fff">a</span>
<div class="row" style="top:590.30px;background:#e5e5e5"><div class="nmc" style="background:#d2d2d2"></div></div>
<span style="left:326.00px;top:591.04px;color:#1a62da">WGAL</span>
<span style="left:400.12px;top:591.04px;color:#1a62da">27</span>
<span style="left:474.49px;top:591.04px;color:#1a62da">NBC</span>
<span style="left:514.90px;top:591.04px;color:#1a62da">-12.7</span>
<span style="left:568.26px;top:591.04px;color:#1a62da">-103.5</span>
<span style="left:623.45px;top:591.04px;color:#1a62da">2Edge</span>
<span style="left:676.64px;top:591.04px;color:#1a62da">25.3</span>
<span style="left:716.24px;top:591.04px;color:#d01b3a">351°</span>
<span style="left:763.44px;top:591.04px;color:#d01b3a">(2°)</span>
<div class="bC" style="top:591.30px"></div>
<span style="left:313.00px;top:591.04px;color:#fff">C</span>
</div>
<svg class="abs" style="left:0;top:600px" width="800" height="168" viewBox="0 600 800 168">
<line x1="9.0" y1="645.50" x2="172.3" y2="645.50" stroke="#5a5a5a" stroke-width="1" stroke-dasharray="1 1"/>
<line x1="216.0" y1="645.50" x2="791.5" y2="645.50" stroke="#5a5a5a" stroke-width="1" stroke-dasharray="1 1"/>
<line x1="9.0" y1="657.50" x2="172.3" y2="657.50" stroke="#5a5a5a" stroke-width="1" stroke-dasharray="1 1"/>
<line x1="216.0" y1="657.50" x2="791.5" y2="657.50" stroke="#5a5a5a" stroke-width="1" stroke-dasharray="1 1"/>
<line x1="9.0" y1="670.50" x2="172.3" y2="670.50" stroke="#5a5a5a" stroke-width="1" stroke-dasharray="1 1"/>
<line x1="216.0" y1="670.50" x2="791.5" y2="670.50" stroke="#5a5a5a" stroke-width="1" stroke-dasharray="1 1"/>
<line x1="9.0" y1="683.50" x2="172.3" y2="683.50" stroke="#5a5a5a" stroke-width="1" stroke-dasharray="1 1"/>
<line x1="216.0" y1="683.50" x2="791.5" y2="683.50" stroke="#5a5a5a" stroke-width="1" stroke-dasharray="1 1"/>
<line x1="9.0" y1="696.50" x2="172.3" y2="696.50" stroke="#5a5a5a" stroke-width="1" stroke-dasharray="1 1"/>
<line x1="216.0" y1="696.50" x2="791.5" y2="696.50" stroke="#5a5a5a" stroke-width="1" stroke-dasharray="1 1"/>
<line x1="9.0" y1="708.50" x2="172.3" y2="708.50" stroke="#5a5a5a" stroke-width="1" stroke-dasharray="1 1"/>
<line x1="216.0" y1="708.50" x2="791.5" y2="708.50" stroke="#5a5a5a" stroke-width="1" stroke-dasharray="1 1"/>
<line x1="9.0" y1="721.50" x2="172.3" y2="721.50" stroke="#5a5a5a" stroke-width="1" stroke-dasharray="1 1"/>
<line x1="216.0" y1="721.50" x2="791.5" y2="721.50" stroke="#5a5a5a" stroke-width="1" stroke-dasharray="1 1"/>
<line x1="9.0" y1="734.50" x2="172.3" y2="734.50" stroke="#5a5a5a" stroke-width="1" stroke-dasharray="1 1"/>
<line x1="216.0" y1="734.50" x2="791.5" y2="734.50" stroke="#5a5a5a" stroke-width="1" stroke-dasharray="1 1"/>
<line x1="9.0" y1="747.50" x2="172.3" y2="747.50" stroke="#5a5a5a" stroke-width="1" stroke-dasharray="1 1"/>
<line x1="216.0" y1="747.50" x2="791.5" y2="747.50" stroke="#5a5a5a" stroke-width="1" stroke-dasharray="1 1"/>
<rect x="38.57" y="637" width="10.39" height="123.20" fill="#e3e3e3" fill-opacity="0.88"/>
<rect x="69.74" y="637" width="31.17" height="123.20" fill="#e3e3e3" fill-opacity="0.88"/>
<path d="M13 632.6L7.4 632.6L7.4 760.2L173.3 760.2L173.3 632.6L160.5 632.6M64.3 632.6L110.8 632.6" fill="none" stroke="#000" stroke-width="1.7"/>
<path d="M482.5 632.6L214.9 632.6L214.9 760.2L792.5 760.2L792.5 632.6M792.5 632.6L523.7 632.6" fill="none" stroke="#000" stroke-width="1.7"/>
<text x="193.8" y="635.7" font-size="10.6" text-anchor="middle" font-family="Liberation Sans">dBm</text>
<text x="202" y="647.64" font-size="10.2" text-anchor="end" font-family="Liberation Sans">-10</text>
<text x="202" y="660.38" font-size="10.2" text-anchor="end" font-family="Liberation Sans">-20</text>
<text x="202" y="673.12" font-size="10.2" text-anchor="end" font-family="Liberation Sans">-30</text>
<text x="202" y="685.86" font-size="10.2" text-anchor="end" font-family="Liberation Sans">-40</text>
<text x="202" y="698.60" font-size="10.2" text-anchor="end" font-family="Liberation Sans">-50</text>
<text x="202" y="711.34" font-size="10.2" text-anchor="end" font-family="Liberation Sans">-60</text>
<text x="202" y="724.08" font-size="10.2" text-anchor="end" font-family="Liberation Sans">-70</text>
<text x="202" y="736.82" font-size="10.2" text-anchor="end" font-family="Liberation Sans">-80</text>
<text x="202" y="749.56" font-size="10.2" text-anchor="end" font-family="Liberation Sans">-90</text>
<text x="194" y="761.6" font-size="9" text-anchor="middle" font-family="Liberation Sans">Channel</text>
<rect x="9.15" y="757.2" width="6.10" height="6" fill="#fff"/>
<text x="12.20" y="762.10" font-size="7.3" text-anchor="middle" fill="#222" font-family="Liberation Sans">2</text>
<rect x="29.93" y="757.2" width="6.10" height="6" fill="#fff"/>
<text x="32.98" y="762.10" font-size="7.3" text-anchor="middle" fill="#222" font-family="Liberation Sans">4</text>
<rect x="50.71" y="757.2" width="6.10" height="6" fill="#fff"/>
<text x="53.76" y="762.10" font-size="7.3" text-anchor="middle" fill="#222" font-family="Liberation Sans">5</text>
<rect x="61.10" y="757.2" width="6.10" height="6" fill="#fff"/>
<text x="64.14" y="762.10" font-size="7.3" text-anchor="middle" fill="#222" font-family="Liberation Sans">6</text>
<rect x="102.66" y="757.2" width="6.10" height="6" fill="#fff"/>
<text x="105.71" y="762.10" font-size="7.3" text-anchor="middle" fill="#222" font-family="Liberation Sans">7</text>
<rect x="123.44" y="757.2" width="6.10" height="6" fill="#fff"/>
<text x="126.49" y="762.10" font-size="7.3" text-anchor="middle" fill="#222" font-family="Liberation Sans">9</text>
<rect x="141.97" y="757.2" width="10.60" height="6" fill="#fff"/>
<text x="147.27" y="762.10" font-size="7.3" text-anchor="middle" fill="#222" font-family="Liberation Sans">11</text>
<rect x="162.75" y="757.2" width="10.60" height="6" fill="#fff"/>
<text x="168.05" y="762.10" font-size="7.3" text-anchor="middle" fill="#222" font-family="Liberation Sans">13</text>
<rect x="214.36" y="757.2" width="10.60" height="6" fill="#fff"/>
<text x="219.66" y="762.10" font-size="7.3" text-anchor="middle" fill="#222" font-family="Liberation Sans">14</text>
<rect x="234.99" y="757.2" width="10.60" height="6" fill="#fff"/>
<text x="240.29" y="762.10" font-size="7.3" text-anchor="middle" fill="#222" font-family="Liberation Sans">16</text>
<rect x="265.93" y="757.2" width="10.60" height="6" fill="#fff"/>
<text x="271.23" y="762.10" font-size="7.3" text-anchor="middle" fill="#222" font-family="Liberation Sans">19</text>
<rect x="296.87" y="757.2" width="10.60" height="6" fill="#fff"/>
<text x="302.17" y="762.10" font-size="7.3" text-anchor="middle" fill="#222" font-family="Liberation Sans">22</text>
<rect x="327.81" y="757.2" width="10.60" height="6" fill="#fff"/>
<text x="333.11" y="762.10" font-size="7.3" text-anchor="middle" fill="#222" font-family="Liberation Sans">25</text>
<rect x="358.76" y="757.2" width="10.60" height="6" fill="#fff"/>
<text x="364.06" y="762.10" font-size="7.3" text-anchor="middle" fill="#222" font-family="Liberation Sans">28</text>
<rect x="389.70" y="757.2" width="10.60" height="6" fill="#fff"/>
<text x="395.00" y="762.10" font-size="7.3" text-anchor="middle" fill="#222" font-family="Liberation Sans">31</text>
<rect x="420.64" y="757.2" width="10.60" height="6" fill="#fff"/>
<text x="425.94" y="762.10" font-size="7.3" text-anchor="middle" fill="#222" font-family="Liberation Sans">34</text>
<rect x="451.59" y="757.2" width="10.60" height="6" fill="#fff"/>
<text x="456.89" y="762.10" font-size="7.3" text-anchor="middle" fill="#222" font-family="Liberation Sans">37</text>
<rect x="482.53" y="757.2" width="10.60" height="6" fill="#fff"/>
<text x="487.83" y="762.10" font-size="7.3" text-anchor="middle" fill="#222" font-family="Liberation Sans">40</text>
<rect x="513.47" y="757.2" width="10.60" height="6" fill="#fff"/>
<text x="518.77" y="762.10" font-size="7.3" text-anchor="middle" fill="#222" font-family="Liberation Sans">43</text>
<rect x="544.41" y="757.2" width="10.60" height="6" fill="#fff"/>
<text x="549.71" y="762.10" font-size="7.3" text-anchor="middle" fill="#222" font-family="Liberation Sans">46</text>
<rect x="575.36" y="757.2" width="10.60" height="6" fill="#fff"/>
<text x="580.66" y="762.10" font-size="7.3" text-anchor="middle" fill="#222" font-family="Liberation Sans">49</text>
<rect x="606.30" y="757.2" width="10.60" height="6" fill="#fff"/>
<text x="611.60" y="762.10" font-size="7.3" text-anchor="middle" fill="#222" font-family="Liberation Sans">52</text>
<rect x="637.24" y="757.2" width="10.60" height="6" fill="#fff"/>
<text x="642.54" y="762.10" font-size="7.3" text-anchor="middle" fill="#222" font-family="Liberation Sans">55</text>
<rect x="668.19" y="757.2" width="10.60" height="6" fill="#fff"/>
<text x="673.49" y="762.10" font-size="7.3" text-anchor="middle" fill="#222" font-family="Liberation Sans">58</text>
<rect x="699.13" y="757.2" width="10.60" height="6" fill="#fff"/>
<text x="704.43" y="762.10" font-size="7.3" text-anchor="middle" fill="#222" font-family="Liberation Sans">61</text>
<rect x="730.07" y="757.2" width="10.60" height="6" fill="#fff"/>
<text x="735.37" y="762.10" font-size="7.3" text-anchor="middle" fill="#222" font-family="Liberation Sans">64</text>
<rect x="761.01" y="757.2" width="10.60" height="6" fill="#fff"/>
<text x="766.31" y="762.10" font-size="7.3" text-anchor="middle" fill="#222" font-family="Liberation Sans">67</text>
<rect x="781.64" y="757.2" width="10.60" height="6" fill="#fff"/>
<text x="786.94" y="762.10" font-size="7.3" text-anchor="middle" fill="#222" font-family="Liberation Sans">69</text>
<g transform="translate(471.10 661.78) rotate(-90)"><rect x="-0.3" y="-7.6" width="46.59" height="8.6" fill="#fff" fill-opacity="0.85"/><text transform="scale(0.95 1)" font-size="10.2" fill="#1a62da" stroke="#1a62da" stroke-width="0.15" font-family="Liberation Sans">WMAR-TV</text></g>
<g transform="translate(151.17 672.48) rotate(-90)"><rect x="-0.3" y="-7.6" width="43.37" height="8.6" fill="#fff" fill-opacity="0.85"/><text transform="scale(0.95 1)" font-size="10.2" fill="#1a62da" stroke="#1a62da" stroke-width="0.15" font-family="Liberation Sans">WBAL-TV</text></g>
<g transform="translate(491.73 672.86) rotate(-90)"><rect x="-0.3" y="-7.6" width="46.05" height="8.6" fill="#fff" fill-opacity="0.85"/><text transform="scale(0.95 1)" font-size="10.2" fill="#1a62da" stroke="#1a62da" stroke-width="0.15" font-family="Liberation Sans">WNUV-DT</text></g>
<g transform="translate(171.95 673.12) rotate(-90)"><rect x="-0.3" y="-7.6" width="35.82" height="8.6" fill="#fff" fill-opacity="0.85"/><text transform="scale(0.95 1)" font-size="10.2" fill="#1a62da" stroke="#1a62da" stroke-width="0.15" font-family="Liberation Sans">WJZ-TV</text></g>
<g transform="translate(553.61 674.90) rotate(-90)"><rect x="-0.3" y="-7.6" width="27.75" height="8.6" fill="#fff" fill-opacity="0.85"/><text transform="scale(0.95 1)" font-size="10.2" fill="#1a62da" stroke="#1a62da" stroke-width="0.15" font-family="Liberation Sans">WBFF</text></g>
<g transform="translate(378.27 680.00) rotate(-90)"><rect x="-0.3" y="-7.6" width="46.59" height="8.6" fill="#fff" fill-opacity="0.85"/><text transform="scale(0.95 1)" font-size="10.2" fill="#1a62da" stroke="#1a62da" stroke-width="0.15" font-family="Liberation Sans">WMPB-DT</text></g>
<g transform="translate(502.04 692.10) rotate(-90)"><rect x="-0.3" y="-7.6" width="28.83" height="8.6" fill="#fff" fill-opacity="0.85"/><text transform="scale(0.95 1)" font-size="10.2" fill="#1a62da" stroke="#1a62da" stroke-width="0.15" font-family="Liberation Sans">WUTB</text></g>
<g transform="translate(512.36 706.12) rotate(-90)"><rect x="-0.3" y="-7.6" width="29.90" height="8.6" fill="#fff" fill-opacity="0.85"/><text transform="scale(0.95 1)" font-size="10.2" fill="#1a62da" stroke="#1a62da" stroke-width="0.15" font-family="Liberation Sans">WMPT</text></g>
<g transform="translate(109.61 723.57) rotate(-90)"><rect x="-0.3" y="-7.6" width="41.75" height="8.6" fill="#fff" fill-opacity="0.85"/><text transform="scale(0.95 1)" font-size="10.2" fill="#1a62da" stroke="#1a62da" stroke-width="0.15" font-family="Liberation Sans">WJLA-TV</text></g>
<g transform="translate(594.87 724.08) rotate(-90)"><rect x="-0.3" y="-7.6" width="32.59" height="8.6" fill="#fff" fill-opacity="0.85"/><text transform="scale(0.95 1)" font-size="10.2" fill="#1a62da" stroke="#1a62da" stroke-width="0.15" font-family="Liberation Sans">WDCW</text></g>
<g transform="translate(130.39 724.72) rotate(-90)"><rect x="-0.3" y="-7.6" width="29.37" height="8.6" fill="#fff" fill-opacity="0.85"/><text transform="scale(0.95 1)" font-size="10.2" fill="#1a62da" stroke="#1a62da" stroke-width="0.15" font-family="Liberation Sans">WUSA</text></g>
<g transform="translate(275.13 727.01) rotate(-90)"><rect x="-0.3" y="-7.6" width="43.36" height="8.6" fill="#fff" fill-opacity="0.85"/><text transform="scale(0.95 1)" font-size="10.2" fill="#1a62da" stroke="#1a62da" stroke-width="0.15" font-family="Liberation Sans">WMJF-LP</text></g>
<g transform="translate(419.53 728.28) rotate(-90)"><rect x="-0.3" y="-7.6" width="44.97" height="8.6" fill="#fff" fill-opacity="0.85"/><text transform="scale(0.95 1)" font-size="10.2" fill="#1a62da" stroke="#1a62da" stroke-width="0.15" font-family="Liberation Sans">WHUT-TV</text></g>
<g transform="translate(244.19 713.12) rotate(-90)"><rect x="-0.3" y="-7.6" width="43.36" height="8.6" fill="#fff" fill-opacity="0.85"/><text transform="scale(0.95 1)" font-size="10.2" fill="#c890e6" stroke="#c890e6" stroke-width="0.15" font-family="Liberation Sans">WMJF-LP</text></g>
<g transform="translate(285.44 729.17) rotate(-90)"><rect x="-0.3" y="-7.6" width="47.67" height="8.6" fill="#fff" fill-opacity="0.85"/><text transform="scale(0.95 1)" font-size="10.2" fill="#1a62da" stroke="#1a62da" stroke-width="0.15" font-family="Liberation Sans">WQAW-LP</text></g>
<g transform="translate(120.00 729.94) rotate(-90)"><rect x="-0.3" y="-7.6" width="28.84" height="8.6" fill="#fff" fill-opacity="0.85"/><text transform="scale(0.95 1)" font-size="10.2" fill="#1a62da" stroke="#1a62da" stroke-width="0.15" font-family="Liberation Sans">WGAL</text></g>
<g transform="translate(429.84 730.70) rotate(-90)"><rect x="-0.3" y="-7.6" width="47.66" height="8.6" fill="#fff" fill-opacity="0.85"/><text transform="scale(0.95 1)" font-size="10.2" fill="#86aee8" stroke="#86aee8" stroke-width="0.15" font-family="Liberation Sans">WPXW-DT</text></g>
<g transform="translate(450.47 731.47) rotate(-90)"><rect x="-0.3" y="-7.6" width="28.82" height="8.6" fill="#fff" fill-opacity="0.85"/><text transform="scale(0.95 1)" font-size="10.2" fill="#1a62da" stroke="#1a62da" stroke-width="0.15" font-family="Liberation Sans">WTTG</text></g>
<g transform="translate(440.16 731.60) rotate(-90)"><rect x="-0.3" y="-7.6" width="29.90" height="8.6" fill="#fff" fill-opacity="0.85"/><text transform="scale(0.95 1)" font-size="10.2" fill="#86aee8" stroke="#86aee8" stroke-width="0.15" font-family="Liberation Sans">WDCA</text></g>
<g transform="translate(388.59 732.49) rotate(-90)"><rect x="-0.3" y="-7.6" width="46.59" height="8.6" fill="#fff" fill-opacity="0.85"/><text transform="scale(0.95 1)" font-size="10.2" fill="#86aee8" stroke="#86aee8" stroke-width="0.15" font-family="Liberation Sans">WGCB-DT</text></g>
<g transform="translate(563.93 733.25) rotate(-90)"><rect x="-0.3" y="-7.6" width="29.90" height="8.6" fill="#fff" fill-opacity="0.85"/><text transform="scale(0.95 1)" font-size="10.2" fill="#86aee8" stroke="#86aee8" stroke-width="0.15" font-family="Liberation Sans">WPMT</text></g>
<g transform="translate(574.24 733.63) rotate(-90)"><rect x="-0.3" y="-7.6" width="39.59" height="8.6" fill="#fff" fill-opacity="0.85"/><text transform="scale(0.95 1)" font-size="10.2" fill="#1a62da" stroke="#1a62da" stroke-width="0.15" font-family="Liberation Sans">WRC-DT</text></g>
<g transform="translate(244.19 734.65) rotate(-90)"><rect x="-0.3" y="-7.6" width="33.69" height="8.6" fill="#fff" fill-opacity="0.85"/><text transform="scale(0.95 1)" font-size="10.2" fill="#86aee8" stroke="#86aee8" stroke-width="0.15" font-family="Liberation Sans">W22DA</text></g>
<g transform="translate(68.05 736.95) rotate(-90)"><rect x="-0.3" y="-7.6" width="41.21" height="8.6" fill="#fff" fill-opacity="0.85"/><text transform="scale(0.95 1)" font-size="10.2" fill="#86aee8" stroke="#86aee8" stroke-width="0.15" font-family="Liberation Sans">WPVI-DT</text></g>
<g transform="translate(233.87 738.48) rotate(-90)"><rect x="-0.3" y="-7.6" width="45.50" height="8.6" fill="#fff" fill-opacity="0.85"/><text transform="scale(0.95 1)" font-size="10.2" fill="#1a62da" stroke="#1a62da" stroke-width="0.15" font-family="Liberation Sans">WFDC-DT</text></g>
<g transform="translate(347.33 739.88) rotate(-90)"><rect x="-0.3" y="-7.6" width="37.98" height="8.6" fill="#fff" fill-opacity="0.85"/><text transform="scale(0.95 1)" font-size="10.2" fill="#86aee8" stroke="#86aee8" stroke-width="0.15" font-family="Liberation Sans">KYW-TV</text></g>
<g transform="translate(429.84 741.15) rotate(-90)"><rect x="-0.3" y="-7.6" width="29.90" height="8.6" fill="#fff" fill-opacity="0.85"/><text transform="scale(0.95 1)" font-size="10.2" fill="#86aee8" stroke="#86aee8" stroke-width="0.15" font-family="Liberation Sans">WCAU</text></g>
<g transform="translate(254.50 741.28) rotate(-90)"><rect x="-0.3" y="-7.6" width="44.44" height="8.6" fill="#fff" fill-opacity="0.85"/><text transform="scale(0.95 1)" font-size="10.2" fill="#1a62da" stroke="#1a62da" stroke-width="0.15" font-family="Liberation Sans">WPHL-DT</text></g>
<g transform="translate(36.88 726.12) rotate(-90)"><rect x="-0.3" y="-7.6" width="40.14" height="8.6" fill="#fff" fill-opacity="0.85"/><text transform="scale(0.95 1)" font-size="10.2" fill="#c890e6" stroke="#c890e6" stroke-width="0.15" font-family="Liberation Sans">WIAV-LP</text></g>
<g transform="translate(357.64 741.66) rotate(-90)"><rect x="-0.3" y="-7.6" width="43.90" height="8.6" fill="#fff" fill-opacity="0.85"/><text transform="scale(0.95 1)" font-size="10.2" fill="#86aee8" stroke="#86aee8" stroke-width="0.15" font-family="Liberation Sans">WETA-TV</text></g>
<g transform="translate(440.16 746.12) rotate(-90)"><rect x="-0.3" y="-7.6" width="28.84" height="8.6" fill="#fff" fill-opacity="0.85"/><text transform="scale(0.95 1)" font-size="10.2" fill="#86aee8" stroke="#86aee8" stroke-width="0.15" font-family="Liberation Sans">WYBE</text></g>
<g transform="translate(16.09 746.12) rotate(-90)"><rect x="-0.3" y="-7.6" width="45.52" height="8.6" fill="#fff" fill-opacity="0.85"/><text transform="scale(0.95 1)" font-size="10.2" fill="#1a62da" stroke="#1a62da" stroke-width="0.15" font-family="Liberation Sans">WNDC-LP</text></g>
<g transform="translate(543.30 746.25) rotate(-90)"><rect x="-0.3" y="-7.6" width="44.44" height="8.6" fill="#fff" fill-opacity="0.85"/><text transform="scale(0.95 1)" font-size="10.2" fill="#1a62da" stroke="#1a62da" stroke-width="0.15" font-family="Liberation Sans">W45DN-D</text></g>
<g transform="translate(36.88 746.88) rotate(-90)"><rect x="-0.3" y="-7.6" width="29.37" height="8.6" fill="#fff" fill-opacity="0.85"/><text transform="scale(0.95 1)" font-size="10.2" fill="#86aee8" stroke="#86aee8" stroke-width="0.15" font-family="Liberation Sans">WACP</text></g>
<g transform="translate(326.70 747.01) rotate(-90)"><rect x="-0.3" y="-7.6" width="46.05" height="8.6" fill="#fff" fill-opacity="0.85"/><text transform="scale(0.95 1)" font-size="10.2" fill="#86aee8" stroke="#86aee8" stroke-width="0.15" font-family="Liberation Sans">WNVC-DT</text></g>
<g transform="translate(367.96 748.79) rotate(-90)"><rect x="-0.3" y="-7.6" width="43.89" height="8.6" fill="#fff" fill-opacity="0.85"/><text transform="scale(0.95 1)" font-size="10.2" fill="#86aee8" stroke="#86aee8" stroke-width="0.15" font-family="Liberation Sans">WFPT-DT</text></g>
<g transform="translate(295.76 748.92) rotate(-90)"><rect x="-0.3" y="-7.6" width="46.59" height="8.6" fill="#fff" fill-opacity="0.85"/><text transform="scale(0.95 1)" font-size="10.2" fill="#86aee8" stroke="#86aee8" stroke-width="0.15" font-family="Liberation Sans">WBOC-DT</text></g>
<g transform="translate(409.21 749.69) rotate(-90)"><rect x="-0.3" y="-7.6" width="46.05" height="8.6" fill="#fff" fill-opacity="0.85"/><text transform="scale(0.95 1)" font-size="10.2" fill="#86aee8" stroke="#86aee8" stroke-width="0.15" font-family="Liberation Sans">WPSG-DT</text></g>
<g transform="translate(337.01 749.94) rotate(-90)"><rect x="-0.3" y="-7.6" width="28.29" height="8.6" fill="#fff" fill-opacity="0.85"/><text transform="scale(0.95 1)" font-size="10.2" fill="#86aee8" stroke="#86aee8" stroke-width="0.15" font-family="Liberation Sans">WTVE</text></g>
<g transform="translate(316.39 751.60) rotate(-90)"><rect x="-0.3" y="-7.6" width="44.44" height="8.6" fill="#fff" fill-opacity="0.85"/><text transform="scale(0.95 1)" font-size="10.2" fill="#86aee8" stroke="#86aee8" stroke-width="0.15" font-family="Liberation Sans">WLYH-DT</text></g>
<g transform="translate(512.36 751.98) rotate(-90)"><rect x="-0.3" y="-7.6" width="43.36" height="8.6" fill="#fff" fill-opacity="0.85"/><text transform="scale(0.95 1)" font-size="10.2" fill="#86aee8" stroke="#86aee8" stroke-width="0.15" font-family="Liberation Sans">WTXF-TV</text></g>
<g transform="translate(161.56 752.36) rotate(-90)"><rect x="-0.3" y="-7.6" width="47.66" height="8.6" fill="#fff" fill-opacity="0.85"/><text transform="scale(0.95 1)" font-size="10.2" fill="#86aee8" stroke="#86aee8" stroke-width="0.15" font-family="Liberation Sans">WWPX-DT</text></g>
<g transform="translate(378.27 752.49) rotate(-90)"><rect x="-0.3" y="-7.6" width="45.51" height="8.6" fill="#fff" fill-opacity="0.85"/><text transform="scale(0.95 1)" font-size="10.2" fill="#86aee8" stroke="#86aee8" stroke-width="0.15" font-family="Liberation Sans">WUVP-DT</text></g>
<g transform="translate(357.64 752.87) rotate(-90)"><rect x="-0.3" y="-7.6" width="48.19" height="8.6" fill="#fff" fill-opacity="0.85"/><text transform="scale(0.95 1)" font-size="10.2" fill="#86aee8" stroke="#86aee8" stroke-width="0.15" font-family="Liberation Sans">WGTW-DT</text></g>
<g transform="translate(161.56 753.00) rotate(-90)"><rect x="-0.3" y="-7.6" width="44.98" height="8.6" fill="#fff" fill-opacity="0.85"/><text transform="scale(0.95 1)" font-size="10.2" fill="#86aee8" stroke="#86aee8" stroke-width="0.15" font-family="Liberation Sans">WHYY-TV</text></g>
<g transform="translate(26.48 753.51) rotate(-90)"><rect x="-0.3" y="-7.6" width="44.98" height="8.6" fill="#fff" fill-opacity="0.85"/><text transform="scale(0.95 1)" font-size="10.2" fill="#1a62da" stroke="#1a62da" stroke-width="0.15" font-family="Liberation Sans">WFPA-CA</text></g>
<g transform="translate(398.90 753.64) rotate(-90)"><rect x="-0.3" y="-7.6" width="44.98" height="8.6" fill="#fff" fill-opacity="0.85"/><text transform="scale(0.95 1)" font-size="10.2" fill="#86aee8" stroke="#86aee8" stroke-width="0.15" font-family="Liberation Sans">WPPX-DT</text></g>
<g transform="translate(140.78 753.76) rotate(-90)"><rect x="-0.3" y="-7.6" width="46.58" height="8.6" fill="#fff" fill-opacity="0.85"/><text transform="scale(0.95 1)" font-size="10.2" fill="#86aee8" stroke="#86aee8" stroke-width="0.15" font-family="Liberation Sans">WHTM-DT</text></g>
<rect x="462.70" y="665.78" width="9.80" height="3.2" rx="1" fill="#1260dc" stroke="#0c2a80" stroke-width="0.5"/>
<rect x="141.37" y="674.68" width="12.60" height="6.8" rx="3.4" fill="#ffff00"/>
<rect x="142.77" y="676.48" width="9.80" height="3.2" rx="1" fill="#1260dc" stroke="#0c2a80" stroke-width="0.5"/>
<rect x="483.33" y="676.86" width="9.80" height="3.2" rx="1" fill="#1260dc" stroke="#0c2a80" stroke-width="0.5"/>
<rect x="162.15" y="675.32" width="12.60" height="6.8" rx="3.4" fill="#ffff00"/>
<rect x="163.55" y="677.12" width="9.80" height="3.2" rx="1" fill="#1260dc" stroke="#0c2a80" stroke-width="0.5"/>
<rect x="545.21" y="678.90" width="9.80" height="3.2" rx="1" fill="#1260dc" stroke="#0c2a80" stroke-width="0.5"/>
<rect x="369.87" y="684.00" width="9.80" height="3.2" rx="1" fill="#1260dc" stroke="#0c2a80" stroke-width="0.5"/>
<rect x="493.64" y="696.10" width="9.80" height="3.2" rx="1" fill="#1260dc" stroke="#0c2a80" stroke-width="0.5"/>
<rect x="503.96" y="710.12" width="9.80" height="3.2" rx="1" fill="#1260dc" stroke="#0c2a80" stroke-width="0.5"/>
<rect x="99.81" y="725.77" width="12.60" height="6.8" rx="3.4" fill="#ffff00"/>
<rect x="101.21" y="727.57" width="9.80" height="3.2" rx="1" fill="#1260dc" stroke="#0c2a80" stroke-width="0.5"/>
<rect x="586.47" y="728.08" width="9.80" height="3.2" rx="1" fill="#1260dc" stroke="#0c2a80" stroke-width="0.5"/>
<rect x="120.59" y="726.92" width="12.60" height="6.8" rx="3.4" fill="#ffff00"/>
<rect x="121.99" y="728.72" width="9.80" height="3.2" rx="1" fill="#1260dc" stroke="#0c2a80" stroke-width="0.5"/>
<rect x="266.73" y="731.01" width="9.80" height="3.2" rx="1" fill="#1260dc" stroke="#0c2a80" stroke-width="0.5"/>
<rect x="411.13" y="732.28" width="9.80" height="3.2" rx="1" fill="#1260dc" stroke="#0c2a80" stroke-width="0.5"/>
<rect x="235.79" y="717.12" width="9.80" height="3.2" rx="1" fill="#c890e6" stroke="#6a8ed0" stroke-width="0.5"/>
<rect x="277.04" y="733.17" width="9.80" height="3.2" rx="1" fill="#1260dc" stroke="#0c2a80" stroke-width="0.5"/>
<rect x="110.20" y="732.14" width="12.60" height="6.8" rx="3.4" fill="#ffff00"/>
<rect x="111.59" y="733.94" width="9.80" height="3.2" rx="1" fill="#1260dc" stroke="#0c2a80" stroke-width="0.5"/>
<rect x="421.44" y="734.70" width="9.80" height="3.2" rx="1" fill="#7ea8e6" stroke="#6a8ed0" stroke-width="0.5"/>
<rect x="442.07" y="735.47" width="9.80" height="3.2" rx="1" fill="#1260dc" stroke="#0c2a80" stroke-width="0.5"/>
<rect x="431.76" y="735.60" width="9.80" height="3.2" rx="1" fill="#7ea8e6" stroke="#6a8ed0" stroke-width="0.5"/>
<rect x="380.19" y="736.49" width="9.80" height="3.2" rx="1" fill="#7ea8e6" stroke="#6a8ed0" stroke-width="0.5"/>
<rect x="555.53" y="737.25" width="9.80" height="3.2" rx="1" fill="#7ea8e6" stroke="#6a8ed0" stroke-width="0.5"/>
<rect x="565.84" y="737.63" width="9.80" height="3.2" rx="1" fill="#1260dc" stroke="#0c2a80" stroke-width="0.5"/>
<rect x="235.79" y="738.65" width="9.80" height="3.2" rx="1" fill="#7ea8e6" stroke="#6a8ed0" stroke-width="0.5"/>
<rect x="58.25" y="739.15" width="12.60" height="6.8" rx="3.4" fill="#ffff70"/>
<rect x="59.65" y="740.95" width="9.80" height="3.2" rx="1" fill="#7ea8e6" stroke="#6a8ed0" stroke-width="0.5"/>
<rect x="225.47" y="742.48" width="9.80" height="3.2" rx="1" fill="#1260dc" stroke="#0c2a80" stroke-width="0.5"/>
<rect x="338.93" y="743.88" width="9.80" height="3.2" rx="1" fill="#7ea8e6" stroke="#6a8ed0" stroke-width="0.5"/>
<rect x="421.44" y="745.15" width="9.80" height="3.2" rx="1" fill="#7ea8e6" stroke="#6a8ed0" stroke-width="0.5"/>
<rect x="246.10" y="745.28" width="9.80" height="3.2" rx="1" fill="#1260dc" stroke="#0c2a80" stroke-width="0.5"/>
<rect x="27.07" y="728.32" width="12.60" height="6.8" rx="3.4" fill="#ffff70"/>
<rect x="28.48" y="730.12" width="9.80" height="3.2" rx="1" fill="#c890e6" stroke="#6a8ed0" stroke-width="0.5"/>
<rect x="349.24" y="745.66" width="9.80" height="3.2" rx="1" fill="#7ea8e6" stroke="#6a8ed0" stroke-width="0.5"/>
<rect x="431.76" y="750.12" width="9.80" height="3.2" rx="1" fill="#7ea8e6" stroke="#6a8ed0" stroke-width="0.5"/>
<rect x="6.30" y="748.32" width="12.60" height="6.8" rx="3.4" fill="#ffff00"/>
<rect x="7.70" y="750.12" width="9.80" height="3.2" rx="1" fill="#1260dc" stroke="#0c2a80" stroke-width="0.5"/>
<rect x="534.90" y="750.25" width="9.80" height="3.2" rx="1" fill="#1260dc" stroke="#0c2a80" stroke-width="0.5"/>
<rect x="27.07" y="749.08" width="12.60" height="6.8" rx="3.4" fill="#ffff70"/>
<rect x="28.48" y="750.88" width="9.80" height="3.2" rx="1" fill="#7ea8e6" stroke="#6a8ed0" stroke-width="0.5"/>
<rect x="318.30" y="751.01" width="9.80" height="3.2" rx="1" fill="#7ea8e6" stroke="#6a8ed0" stroke-width="0.5"/>
<rect x="359.56" y="752.79" width="9.80" height="3.2" rx="1" fill="#7ea8e6" stroke="#6a8ed0" stroke-width="0.5"/>
<rect x="287.36" y="752.92" width="9.80" height="3.2" rx="1" fill="#7ea8e6" stroke="#6a8ed0" stroke-width="0.5"/>
<rect x="400.81" y="753.69" width="9.80" height="3.2" rx="1" fill="#7ea8e6" stroke="#6a8ed0" stroke-width="0.5"/>
<rect x="328.61" y="753.94" width="9.80" height="3.2" rx="1" fill="#7ea8e6" stroke="#6a8ed0" stroke-width="0.5"/>
<rect x="307.99" y="755.60" width="9.80" height="3.2" rx="1" fill="#7ea8e6" stroke="#6a8ed0" stroke-width="0.5"/>
<rect x="503.96" y="755.98" width="9.80" height="3.2" rx="1" fill="#7ea8e6" stroke="#6a8ed0" stroke-width="0.5"/>
<rect x="151.75" y="754.56" width="12.60" height="6.8" rx="3.4" fill="#ffff70"/>
<rect x="153.16" y="756.36" width="9.80" height="3.2" rx="1" fill="#7ea8e6" stroke="#6a8ed0" stroke-width="0.5"/>
<rect x="369.87" y="756.49" width="9.80" height="3.2" rx="1" fill="#7ea8e6" stroke="#6a8ed0" stroke-width="0.5"/>
<rect x="349.24" y="756.87" width="9.80" height="3.2" rx="1" fill="#7ea8e6" stroke="#6a8ed0" stroke-width="0.5"/>
<rect x="151.75" y="755.20" width="12.60" height="6.8" rx="3.4" fill="#ffff70"/>
<rect x="153.16" y="757.00" width="9.80" height="3.2" rx="1" fill="#7ea8e6" stroke="#6a8ed0" stroke-width="0.5"/>
<rect x="16.68" y="755.71" width="12.60" height="6.8" rx="3.4" fill="#ffff00"/>
<rect x="18.09" y="757.51" width="9.80" height="3.2" rx="1" fill="#1260dc" stroke="#0c2a80" stroke-width="0.5"/>
<rect x="390.50" y="757.64" width="9.80" height="3.2" rx="1" fill="#7ea8e6" stroke="#6a8ed0" stroke-width="0.5"/>
<rect x="130.97" y="755.96" width="12.60" height="6.8" rx="3.4" fill="#ffff70"/>
<rect x="132.38" y="757.76" width="9.80" height="3.2" rx="1" fill="#7ea8e6" stroke="#6a8ed0" stroke-width="0.5"/>
<text x="20.1" y="635.8" font-size="11" font-weight="bold" letter-spacing="0.1" font-family="Liberation Sans">VHF Lo</text>
<text x="118.6" y="635.8" font-size="11" font-weight="bold" letter-spacing="0.45" font-family="Liberation Sans">VHF Hi</text>
<text x="492.5" y="635.8" font-size="11" font-weight="bold" font-family="Liberation Sans">UHF</text>
</svg>
</body></html>
